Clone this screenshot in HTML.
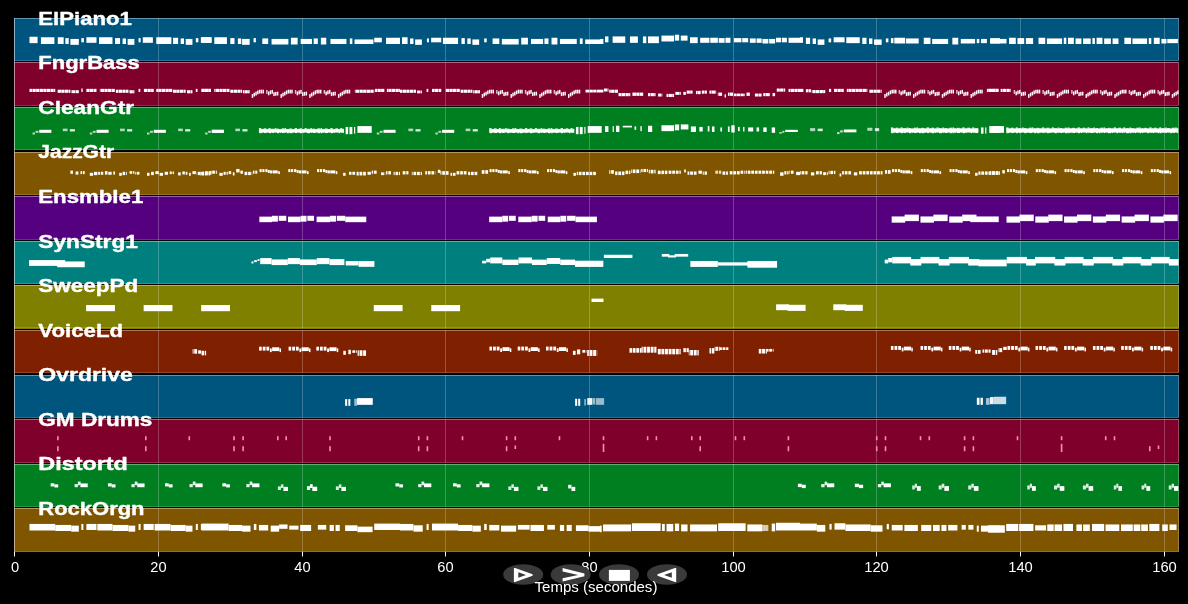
<!DOCTYPE html>
<html lang="fr">
<head>
<meta charset="utf-8">
<title>Piano roll</title>
<style>
html,body{margin:0;padding:0;background:#000;}
body{width:1188px;height:604px;overflow:hidden;font-family:"Liberation Sans",sans-serif;}
svg{display:block;will-change:transform;}
text{font-family:"Liberation Sans",sans-serif;fill:#fff;}
.lb{font-weight:bold;font-size:19.2px;stroke:#fff;stroke-width:0.4px;stroke-linejoin:round;}
.tk{font-size:14.1px;text-anchor:middle;}
.n{fill:#fff;}
</style>
</head>
<body>
<svg width="1188" height="604" viewBox="0 0 1188 604">
<rect width="1188" height="604" fill="#000"/>
<g shape-rendering="crispEdges">
<rect x="14" y="18" width="1165" height="43" fill="#00557f"/>
<rect x="14" y="62" width="1165" height="44" fill="#7f002a"/>
<rect x="14" y="107" width="1165" height="43" fill="#007f20"/>
<rect x="14" y="152" width="1165" height="43" fill="#7f5500"/>
<rect x="14" y="196" width="1165" height="44" fill="#55007f"/>
<rect x="14" y="241" width="1165" height="43" fill="#007f7f"/>
<rect x="14" y="285" width="1165" height="43.5" fill="#7f7f00"/>
<rect x="14" y="330" width="1165" height="43" fill="#7f2000"/>
<rect x="14" y="375" width="1165" height="43" fill="#00557f"/>
<rect x="14" y="419" width="1165" height="44" fill="#7f002a"/>
<rect x="14" y="464" width="1165" height="43" fill="#007f20"/>
<rect x="14" y="508" width="1165" height="44" fill="#7f5500"/>
</g>
<g stroke="#fff" stroke-opacity="0.29" stroke-width="0.8">
<line x1="158.5" y1="18" x2="158.5" y2="61"/><line x1="302.5" y1="18" x2="302.5" y2="61"/><line x1="445.5" y1="18" x2="445.5" y2="61"/><line x1="589.5" y1="18" x2="589.5" y2="61"/><line x1="733.5" y1="18" x2="733.5" y2="61"/><line x1="876.5" y1="18" x2="876.5" y2="61"/><line x1="1020.5" y1="18" x2="1020.5" y2="61"/><line x1="1164.5" y1="18" x2="1164.5" y2="61"/>
<line x1="158.5" y1="62" x2="158.5" y2="106"/><line x1="302.5" y1="62" x2="302.5" y2="106"/><line x1="445.5" y1="62" x2="445.5" y2="106"/><line x1="589.5" y1="62" x2="589.5" y2="106"/><line x1="733.5" y1="62" x2="733.5" y2="106"/><line x1="876.5" y1="62" x2="876.5" y2="106"/><line x1="1020.5" y1="62" x2="1020.5" y2="106"/><line x1="1164.5" y1="62" x2="1164.5" y2="106"/>
<line x1="158.5" y1="107" x2="158.5" y2="150"/><line x1="302.5" y1="107" x2="302.5" y2="150"/><line x1="445.5" y1="107" x2="445.5" y2="150"/><line x1="589.5" y1="107" x2="589.5" y2="150"/><line x1="733.5" y1="107" x2="733.5" y2="150"/><line x1="876.5" y1="107" x2="876.5" y2="150"/><line x1="1020.5" y1="107" x2="1020.5" y2="150"/><line x1="1164.5" y1="107" x2="1164.5" y2="150"/>
<line x1="158.5" y1="152" x2="158.5" y2="195"/><line x1="302.5" y1="152" x2="302.5" y2="195"/><line x1="445.5" y1="152" x2="445.5" y2="195"/><line x1="589.5" y1="152" x2="589.5" y2="195"/><line x1="733.5" y1="152" x2="733.5" y2="195"/><line x1="876.5" y1="152" x2="876.5" y2="195"/><line x1="1020.5" y1="152" x2="1020.5" y2="195"/><line x1="1164.5" y1="152" x2="1164.5" y2="195"/>
<line x1="158.5" y1="196" x2="158.5" y2="240"/><line x1="302.5" y1="196" x2="302.5" y2="240"/><line x1="445.5" y1="196" x2="445.5" y2="240"/><line x1="589.5" y1="196" x2="589.5" y2="240"/><line x1="733.5" y1="196" x2="733.5" y2="240"/><line x1="876.5" y1="196" x2="876.5" y2="240"/><line x1="1020.5" y1="196" x2="1020.5" y2="240"/><line x1="1164.5" y1="196" x2="1164.5" y2="240"/>
<line x1="158.5" y1="241" x2="158.5" y2="284"/><line x1="302.5" y1="241" x2="302.5" y2="284"/><line x1="445.5" y1="241" x2="445.5" y2="284"/><line x1="589.5" y1="241" x2="589.5" y2="284"/><line x1="733.5" y1="241" x2="733.5" y2="284"/><line x1="876.5" y1="241" x2="876.5" y2="284"/><line x1="1020.5" y1="241" x2="1020.5" y2="284"/><line x1="1164.5" y1="241" x2="1164.5" y2="284"/>
<line x1="158.5" y1="285" x2="158.5" y2="328.5"/><line x1="302.5" y1="285" x2="302.5" y2="328.5"/><line x1="445.5" y1="285" x2="445.5" y2="328.5"/><line x1="589.5" y1="285" x2="589.5" y2="328.5"/><line x1="733.5" y1="285" x2="733.5" y2="328.5"/><line x1="876.5" y1="285" x2="876.5" y2="328.5"/><line x1="1020.5" y1="285" x2="1020.5" y2="328.5"/><line x1="1164.5" y1="285" x2="1164.5" y2="328.5"/>
<line x1="158.5" y1="330" x2="158.5" y2="373"/><line x1="302.5" y1="330" x2="302.5" y2="373"/><line x1="445.5" y1="330" x2="445.5" y2="373"/><line x1="589.5" y1="330" x2="589.5" y2="373"/><line x1="733.5" y1="330" x2="733.5" y2="373"/><line x1="876.5" y1="330" x2="876.5" y2="373"/><line x1="1020.5" y1="330" x2="1020.5" y2="373"/><line x1="1164.5" y1="330" x2="1164.5" y2="373"/>
<line x1="158.5" y1="375" x2="158.5" y2="418"/><line x1="302.5" y1="375" x2="302.5" y2="418"/><line x1="445.5" y1="375" x2="445.5" y2="418"/><line x1="589.5" y1="375" x2="589.5" y2="418"/><line x1="733.5" y1="375" x2="733.5" y2="418"/><line x1="876.5" y1="375" x2="876.5" y2="418"/><line x1="1020.5" y1="375" x2="1020.5" y2="418"/><line x1="1164.5" y1="375" x2="1164.5" y2="418"/>
<line x1="158.5" y1="419" x2="158.5" y2="463"/><line x1="302.5" y1="419" x2="302.5" y2="463"/><line x1="445.5" y1="419" x2="445.5" y2="463"/><line x1="589.5" y1="419" x2="589.5" y2="463"/><line x1="733.5" y1="419" x2="733.5" y2="463"/><line x1="876.5" y1="419" x2="876.5" y2="463"/><line x1="1020.5" y1="419" x2="1020.5" y2="463"/><line x1="1164.5" y1="419" x2="1164.5" y2="463"/>
<line x1="158.5" y1="464" x2="158.5" y2="507"/><line x1="302.5" y1="464" x2="302.5" y2="507"/><line x1="445.5" y1="464" x2="445.5" y2="507"/><line x1="589.5" y1="464" x2="589.5" y2="507"/><line x1="733.5" y1="464" x2="733.5" y2="507"/><line x1="876.5" y1="464" x2="876.5" y2="507"/><line x1="1020.5" y1="464" x2="1020.5" y2="507"/><line x1="1164.5" y1="464" x2="1164.5" y2="507"/>
<line x1="158.5" y1="508" x2="158.5" y2="552"/><line x1="302.5" y1="508" x2="302.5" y2="552"/><line x1="445.5" y1="508" x2="445.5" y2="552"/><line x1="589.5" y1="508" x2="589.5" y2="552"/><line x1="733.5" y1="508" x2="733.5" y2="552"/><line x1="876.5" y1="508" x2="876.5" y2="552"/><line x1="1020.5" y1="508" x2="1020.5" y2="552"/><line x1="1164.5" y1="508" x2="1164.5" y2="552"/>
</g>
<g stroke="#fff" stroke-width="1" fill="none" shape-rendering="crispEdges">
<path d="M15 18.5 H1179" stroke-opacity="0.38"/><path d="M15 60.5 H1179" stroke-opacity="0.16"/><path d="M1178.5 19 V60" stroke-opacity="0.25"/>
<path d="M15 62.5 H1179" stroke-opacity="0.38"/><path d="M15 105.5 H1179" stroke-opacity="0.16"/><path d="M1178.5 63 V105" stroke-opacity="0.25"/>
<path d="M15 107.5 H1179" stroke-opacity="0.38"/><path d="M15 149.5 H1179" stroke-opacity="0.16"/><path d="M1178.5 108 V149" stroke-opacity="0.25"/>
<path d="M15 152.5 H1179" stroke-opacity="0.38"/><path d="M15 194.5 H1179" stroke-opacity="0.16"/><path d="M1178.5 153 V194" stroke-opacity="0.25"/>
<path d="M15 196.5 H1179" stroke-opacity="0.38"/><path d="M15 239.5 H1179" stroke-opacity="0.16"/><path d="M1178.5 197 V239" stroke-opacity="0.25"/>
<path d="M15 241.5 H1179" stroke-opacity="0.38"/><path d="M15 283.5 H1179" stroke-opacity="0.16"/><path d="M1178.5 242 V283" stroke-opacity="0.25"/>
<path d="M15 285.5 H1179" stroke-opacity="0.38"/><path d="M15 327.5 H1179" stroke-opacity="0.16"/><path d="M1178.5 286 V327" stroke-opacity="0.25"/>
<path d="M15 330.5 H1179" stroke-opacity="0.38"/><path d="M15 372.5 H1179" stroke-opacity="0.16"/><path d="M1178.5 331 V372" stroke-opacity="0.25"/>
<path d="M15 375.5 H1179" stroke-opacity="0.38"/><path d="M15 417.5 H1179" stroke-opacity="0.16"/><path d="M1178.5 376 V417" stroke-opacity="0.25"/>
<path d="M15 419.5 H1179" stroke-opacity="0.38"/><path d="M15 462.5 H1179" stroke-opacity="0.16"/><path d="M1178.5 420 V462" stroke-opacity="0.25"/>
<path d="M15 464.5 H1179" stroke-opacity="0.38"/><path d="M15 506.5 H1179" stroke-opacity="0.16"/><path d="M1178.5 465 V506" stroke-opacity="0.25"/>
<path d="M15 508.5 H1179" stroke-opacity="0.38"/><path d="M15 551.5 H1179" stroke-opacity="0.16"/><path d="M1178.5 509 V551" stroke-opacity="0.25"/>
<path d="M14.5 18 V552" stroke-opacity="0.55"/>
</g>
<g class="n">
<rect x="29.49" y="36.75" width="8.08" height="6.4"/><rect x="40.94" y="37.26" width="13.47" height="6.73"/><rect x="57.77" y="37.26" width="5.89" height="6.73"/><rect x="65.35" y="38.1" width="3.37" height="5.89"/><rect x="70.4" y="38.94" width="8.42" height="5.89"/><rect x="81.34" y="38.1" width="2.53" height="4.21"/>
<rect x="86.39" y="37.26" width="10.1" height="5.56"/><rect x="99.02" y="37.26" width="13.47" height="6.73"/><rect x="115.01" y="38.1" width="5.05" height="5.89"/><rect x="122.59" y="38.44" width="3.37" height="5.56"/><rect x="127.64" y="38.94" width="6.73" height="5.89"/><rect x="138.58" y="38.1" width="2.02" height="4.21"/>
<rect x="142.79" y="37.26" width="10.1" height="5.56"/><rect x="156.26" y="37.26" width="15.15" height="6.73"/><rect x="173.09" y="37.76" width="5.05" height="6.23"/><rect x="180.67" y="38.44" width="3.37" height="5.56"/><rect x="185.72" y="38.94" width="6.73" height="5.89"/><rect x="195.82" y="38.1" width="2.53" height="4.21"/>
<rect x="200.87" y="37.26" width="10.1" height="5.56"/><rect x="201.68" y="37.26" width="10.1" height="5.56"/><rect x="214.31" y="37.26" width="12.63" height="6.73"/><rect x="230.3" y="38.1" width="4.21" height="5.89"/><rect x="237.88" y="38.44" width="3.37" height="5.56"/><rect x="242.09" y="38.94" width="7.58" height="5.89"/>
<rect x="253.54" y="38.1" width="2.36" height="4.21"/><rect x="262.29" y="38.44" width="5.89" height="5.56"/><rect x="271.55" y="38.94" width="16.84" height="5.56"/><rect x="290.91" y="37.76" width="6.73" height="6.73"/><rect x="300.67" y="38.94" width="11.28" height="5.05"/><rect x="313.64" y="38.44" width="4.21" height="5.56"/>
<rect x="320.88" y="37.76" width="5.39" height="6.73"/><rect x="330.47" y="38.94" width="15.99" height="5.05"/><rect x="349.83" y="38.44" width="2.53" height="5.56"/><rect x="354.55" y="39.45" width="18.86" height="4.55"/><rect x="374.24" y="37.76" width="7.58" height="4.55"/><rect x="386.03" y="37.76" width="13.97" height="6.23"/>
<rect x="402.02" y="37.26" width="5.56" height="6.73"/><rect x="410.1" y="38.44" width="3.37" height="5.56"/><rect x="415.15" y="39.45" width="6.73" height="5.39"/><rect x="426.94" y="38.44" width="2.02" height="3.87"/><rect x="431.14" y="37.76" width="10.1" height="4.55"/><rect x="442.93" y="37.76" width="15.15" height="6.23"/>
<rect x="461.45" y="38.1" width="3.37" height="5.89"/><rect x="467.34" y="38.44" width="3.37" height="5.56"/><rect x="472.39" y="39.45" width="6.73" height="5.39"/><rect x="484.18" y="38.44" width="2.53" height="3.87"/><rect x="492.59" y="38.44" width="6.73" height="5.56"/><rect x="501.85" y="38.94" width="16.84" height="5.56"/>
<rect x="521.21" y="37.76" width="6.73" height="6.73"/><rect x="530.98" y="38.94" width="12.12" height="5.05"/><rect x="544.44" y="38.44" width="4.04" height="5.56"/><rect x="551.52" y="37.76" width="5.89" height="6.73"/><rect x="559.93" y="38.94" width="16.84" height="5.05"/><rect x="579.8" y="38.44" width="2.86" height="5.56"/>
<rect x="585.19" y="39.45" width="14.81" height="4.55"/><rect x="600" y="38.94" width="3.37" height="5.05"/><rect x="605.05" y="36.42" width="3.37" height="5.89"/><rect x="612.63" y="36.42" width="12.63" height="6.4"/><rect x="629.97" y="36.42" width="7.91" height="6.4"/><rect x="642.93" y="36.42" width="3.37" height="6.73"/>
<rect x="647.98" y="36.42" width="10.94" height="6.73"/><rect x="661.45" y="35.58" width="12.63" height="5.89"/><rect x="674.92" y="34.73" width="4.21" height="5.89"/><rect x="680.81" y="35.58" width="6.73" height="5.05"/><rect x="690.07" y="37.26" width="7.58" height="5.89"/><rect x="700.17" y="37.76" width="9.26" height="5.05"/>
<rect x="710.27" y="37.76" width="7.58" height="5.05"/><rect x="718.69" y="38.1" width="5.89" height="4.71"/><rect x="725.42" y="37.76" width="5.05" height="5.05"/><rect x="733.84" y="38.1" width="7.58" height="4.21"/><rect x="742.26" y="38.1" width="5.89" height="4.21"/><rect x="749.83" y="38.44" width="5.89" height="4.38"/>
<rect x="756.57" y="38.44" width="5.05" height="4.38"/><rect x="762.46" y="38.94" width="5.89" height="4.55"/><rect x="769.19" y="38.94" width="5.89" height="4.55"/><rect x="775.93" y="37.76" width="5.05" height="4.55"/><rect x="781.82" y="37.76" width="5.05" height="4.55"/><rect x="788.55" y="37.76" width="11.45" height="5.05"/>
<rect x="800" y="37.26" width="3.03" height="5.56"/><rect x="805.89" y="37.76" width="4.21" height="6.23"/><rect x="812.63" y="38.44" width="3.37" height="5.56"/><rect x="817.68" y="39.45" width="6.73" height="5.39"/><rect x="828.62" y="38.44" width="2.53" height="3.87"/><rect x="833.67" y="37.26" width="10.94" height="5.05"/>
<rect x="846.3" y="37.26" width="13.47" height="5.89"/><rect x="862.29" y="37.76" width="4.21" height="6.23"/><rect x="869.02" y="38.44" width="3.37" height="5.56"/><rect x="874.07" y="39.45" width="7.58" height="5.39"/><rect x="885.86" y="38.44" width="2.53" height="3.87"/><rect x="890.91" y="38.1" width="2.53" height="5.05"/>
<rect x="894.28" y="37.76" width="10.94" height="5.72"/><rect x="906.06" y="38.44" width="12.63" height="5.05"/><rect x="923.74" y="37.76" width="6.73" height="6.23"/><rect x="932.15" y="38.94" width="15.99" height="5.05"/><rect x="952.36" y="37.76" width="5.89" height="6.73"/><rect x="960.77" y="38.94" width="14.31" height="4.55"/>
<rect x="976.77" y="38.94" width="2.53" height="4.21"/><rect x="980.98" y="38.94" width="5.89" height="4.21"/><rect x="990.24" y="38.1" width="9.76" height="5.39"/><rect x="990.02" y="38.94" width="16.5" height="4.55"/><rect x="1009.04" y="37.76" width="6.73" height="6.23"/><rect x="1017.46" y="38.1" width="6.73" height="5.89"/>
<rect x="1025.88" y="38.1" width="7.24" height="5.89"/><rect x="1038.51" y="37.76" width="6.73" height="6.23"/><rect x="1046.92" y="38.44" width="15.15" height="5.56"/><rect x="1063.76" y="37.76" width="2.53" height="6.23"/><rect x="1067.97" y="37.76" width="5.89" height="6.23"/><rect x="1075.54" y="38.44" width="5.89" height="5.56"/>
<rect x="1083.12" y="38.44" width="7.58" height="5.56"/><rect x="1092.38" y="38.1" width="2.53" height="5.89"/><rect x="1096.59" y="37.76" width="5.89" height="6.23"/><rect x="1104.16" y="38.44" width="6.73" height="5.56"/><rect x="1112.58" y="38.44" width="5.89" height="5.56"/><rect x="1124.36" y="37.76" width="6.73" height="6.23"/>
<rect x="1132.44" y="38.44" width="14.65" height="5.56"/><rect x="1148.77" y="38.1" width="2.53" height="5.89"/><rect x="1153.82" y="37.76" width="5.89" height="6.23"/><rect x="1161.4" y="38.94" width="5.05" height="4.55"/><rect x="1167.29" y="38.94" width="10.61" height="4.21"/><rect x="29.49" y="88.85" width="2.71" height="3.13"/>
<rect x="32.49" y="88.85" width="3.29" height="3.13"/><rect x="36.09" y="88.85" width="3.29" height="3.13"/><rect x="39.68" y="88.85" width="3.29" height="3.13"/><rect x="43.28" y="88.85" width="3.29" height="3.13"/><rect x="46.87" y="88.85" width="3.29" height="3.13"/><rect x="50.46" y="88.85" width="3.29" height="3.13"/>
<rect x="54.06" y="88.85" width="1.19" height="3.13"/><rect x="57.65" y="89.69" width="3.29" height="3.13"/><rect x="61.25" y="89.69" width="3.29" height="3.13"/><rect x="64.84" y="89.69" width="3.29" height="3.13"/><rect x="68.43" y="89.69" width="1.96" height="3.13"/><rect x="71.24" y="90.2" width="0.49" height="2.96"/>
<rect x="72.03" y="90.2" width="3.29" height="2.96"/><rect x="75.62" y="90.2" width="3.19" height="2.96"/><rect x="81.34" y="88.51" width="1.35" height="3.46"/><rect x="86.4" y="88.85" width="3.29" height="3.13"/><rect x="90" y="88.85" width="3.29" height="3.13"/><rect x="93.59" y="88.85" width="2.9" height="3.13"/>
<rect x="99.86" y="88.85" width="0.62" height="3.13"/><rect x="100.78" y="88.85" width="3.29" height="3.13"/><rect x="104.37" y="88.85" width="3.29" height="3.13"/><rect x="107.97" y="88.85" width="3.29" height="3.13"/><rect x="111.56" y="88.85" width="3.29" height="3.13"/><rect x="115.85" y="89.69" width="2.6" height="3.13"/>
<rect x="118.75" y="89.69" width="3.29" height="3.13"/><rect x="122.34" y="89.69" width="3.29" height="3.13"/><rect x="125.94" y="89.69" width="2.54" height="3.13"/><rect x="129.53" y="90.2" width="3.29" height="3.13"/><rect x="133.13" y="90.2" width="1.24" height="3.13"/><rect x="138.58" y="88.85" width="1.68" height="3.13"/>
<rect x="143.91" y="88.85" width="3.29" height="3.13"/><rect x="147.5" y="88.85" width="3.29" height="3.13"/><rect x="151.1" y="88.85" width="2.63" height="3.13"/><rect x="156.26" y="88.85" width="1.73" height="3.13"/><rect x="158.28" y="88.85" width="3.29" height="3.13"/><rect x="161.88" y="88.85" width="3.29" height="3.13"/>
<rect x="165.47" y="88.85" width="3.29" height="3.13"/><rect x="169.07" y="88.85" width="3.18" height="3.13"/><rect x="173.09" y="89.69" width="2.86" height="3.13"/><rect x="176.25" y="89.69" width="3.29" height="3.13"/><rect x="179.85" y="89.69" width="3.29" height="3.13"/><rect x="183.44" y="89.69" width="2.28" height="3.13"/>
<rect x="187.04" y="90.2" width="3.29" height="3.13"/><rect x="190.63" y="90.2" width="1.82" height="3.13"/><rect x="195.82" y="88.85" width="1.68" height="3.13"/><rect x="201.41" y="88.85" width="3.29" height="3.13"/><rect x="205.01" y="88.85" width="3.29" height="3.13"/><rect x="208.6" y="88.85" width="2.37" height="3.13"/>
<rect x="201.68" y="88.85" width="3.02" height="3.13"/><rect x="205.01" y="88.85" width="3.29" height="3.13"/><rect x="208.6" y="88.85" width="2.34" height="3.13"/><rect x="214.31" y="88.85" width="1.18" height="3.13"/><rect x="215.79" y="88.85" width="3.29" height="3.13"/><rect x="219.38" y="88.85" width="3.29" height="3.13"/>
<rect x="222.98" y="88.85" width="3.29" height="3.13"/><rect x="226.57" y="88.85" width="2.89" height="3.13"/><rect x="230.3" y="89.69" width="3.15" height="3.13"/><rect x="233.76" y="89.69" width="3.29" height="3.13"/><rect x="237.35" y="89.69" width="3.29" height="3.13"/><rect x="240.95" y="89.69" width="1.14" height="3.13"/>
<rect x="242.93" y="90.2" width="1.31" height="3.13"/><rect x="244.54" y="90.2" width="3.29" height="3.13"/><rect x="248.13" y="90.2" width="1.53" height="3.13"/><rect x="251.73" y="94.09" width="1.45" height="3.8"/><rect x="253.53" y="92.69" width="1.45" height="3.8"/><rect x="255.32" y="91.69" width="1.45" height="3.8"/>
<rect x="257.12" y="90.49" width="1.45" height="3.8"/><rect x="258.92" y="89.69" width="1.45" height="3.8"/><rect x="260.71" y="89.69" width="1.45" height="3.8"/><rect x="262.51" y="89.69" width="1.45" height="3.8"/><rect x="266.1" y="89.99" width="1.45" height="3.8" opacity="0.75"/><rect x="267.9" y="91.49" width="1.45" height="3.8"/>
<rect x="269.7" y="90.49" width="1.45" height="3.8"/><rect x="271.5" y="89.89" width="1.45" height="3.8"/><rect x="273.29" y="92.29" width="1.45" height="3.8"/><rect x="275.09" y="91.89" width="1.45" height="3.8"/><rect x="276.89" y="91.69" width="1.45" height="3.8"/><rect x="280.48" y="94.09" width="1.45" height="3.8"/>
<rect x="282.28" y="92.69" width="1.45" height="3.8"/><rect x="284.07" y="91.69" width="1.45" height="3.8"/><rect x="285.87" y="90.49" width="1.45" height="3.8"/><rect x="287.67" y="89.69" width="1.45" height="3.8"/><rect x="289.46" y="89.69" width="1.45" height="3.8"/><rect x="291.26" y="89.69" width="1.45" height="3.8"/>
<rect x="294.86" y="89.99" width="1.45" height="3.8" opacity="0.75"/><rect x="296.65" y="91.49" width="1.45" height="3.8"/><rect x="298.45" y="90.49" width="1.45" height="3.8"/><rect x="300.25" y="89.89" width="1.45" height="3.8"/><rect x="302.04" y="92.29" width="1.45" height="3.8"/><rect x="303.84" y="91.89" width="1.45" height="3.8"/>
<rect x="305.64" y="91.69" width="1.45" height="3.8"/><rect x="309.23" y="94.09" width="1.45" height="3.8"/><rect x="311.03" y="92.69" width="1.45" height="3.8"/><rect x="312.83" y="91.69" width="1.45" height="3.8"/><rect x="314.62" y="90.49" width="1.45" height="3.8"/><rect x="316.42" y="89.69" width="1.45" height="3.8"/>
<rect x="318.22" y="89.69" width="1.45" height="3.8"/><rect x="320.01" y="89.69" width="1.45" height="3.8"/><rect x="323.61" y="89.99" width="1.45" height="3.8" opacity="0.75"/><rect x="325.4" y="91.49" width="1.45" height="3.8"/><rect x="327.2" y="90.49" width="1.45" height="3.8"/><rect x="329" y="89.89" width="1.45" height="3.8"/>
<rect x="330.8" y="92.29" width="1.45" height="3.8"/><rect x="332.59" y="91.89" width="1.45" height="3.8"/><rect x="334.39" y="91.69" width="1.45" height="3.8"/><rect x="337.98" y="94.09" width="1.45" height="3.8"/><rect x="339.78" y="92.69" width="1.45" height="3.8"/><rect x="341.58" y="91.69" width="1.45" height="3.8"/>
<rect x="343.37" y="90.49" width="1.45" height="3.8"/><rect x="345.17" y="89.69" width="1.45" height="3.8"/><rect x="346.97" y="89.69" width="1.45" height="3.8"/><rect x="348.77" y="89.69" width="1.45" height="3.8"/><rect x="354.88" y="89.69" width="0.77" height="3.13"/><rect x="355.95" y="89.69" width="3.29" height="3.13"/>
<rect x="359.55" y="89.69" width="3.29" height="3.13"/><rect x="363.14" y="89.69" width="3.29" height="3.13"/><rect x="366.74" y="89.69" width="3.29" height="3.13"/><rect x="370.33" y="89.69" width="3.29" height="3.13"/><rect x="373.92" y="89.69" width="0.32" height="3.13"/><rect x="375.08" y="88.85" width="2.13" height="3.13"/>
<rect x="377.52" y="88.85" width="3.29" height="3.13"/><rect x="381.11" y="88.85" width="3.23" height="3.13"/><rect x="386.87" y="88.85" width="1.13" height="3.13"/><rect x="388.3" y="88.85" width="3.29" height="3.13"/><rect x="391.89" y="88.85" width="3.29" height="3.13"/><rect x="395.49" y="88.85" width="3.29" height="3.13"/>
<rect x="399.08" y="88.85" width="0.92" height="3.13"/><rect x="400" y="89.69" width="2.38" height="3.13"/><rect x="402.68" y="89.69" width="3.29" height="3.13"/><rect x="406.27" y="89.69" width="3.29" height="3.13"/><rect x="409.86" y="89.69" width="3.29" height="3.13"/><rect x="413.46" y="89.69" width="2.54" height="3.13"/>
<rect x="417.05" y="90.54" width="3.29" height="2.79"/><rect x="420.65" y="90.54" width="1.24" height="2.79"/><rect x="426.6" y="88.85" width="1.68" height="3.13"/><rect x="431.99" y="88.85" width="2.74" height="3.13"/><rect x="435.02" y="88.85" width="3.29" height="3.13"/><rect x="438.62" y="88.85" width="2.63" height="3.13"/>
<rect x="445.8" y="88.85" width="3.29" height="3.13"/><rect x="449.4" y="88.85" width="3.29" height="3.13"/><rect x="452.99" y="88.85" width="3.29" height="3.13"/><rect x="456.59" y="88.85" width="3.18" height="3.13"/><rect x="460.61" y="89.69" width="2.87" height="3.13"/><rect x="463.77" y="89.69" width="3.29" height="3.13"/>
<rect x="467.37" y="89.69" width="3.29" height="3.13"/><rect x="470.96" y="89.69" width="1.43" height="3.13"/><rect x="473.23" y="90.2" width="1.02" height="3.13"/><rect x="474.56" y="90.2" width="3.29" height="3.13"/><rect x="478.15" y="90.2" width="1.82" height="3.13"/><rect x="481.74" y="94.09" width="1.45" height="3.8"/>
<rect x="483.54" y="92.69" width="1.45" height="3.8"/><rect x="485.34" y="91.69" width="1.45" height="3.8"/><rect x="487.13" y="90.49" width="1.45" height="3.8"/><rect x="488.93" y="89.69" width="1.45" height="3.8"/><rect x="490.73" y="89.69" width="1.45" height="3.8"/><rect x="492.53" y="89.69" width="1.45" height="3.8"/>
<rect x="496.12" y="89.99" width="1.45" height="3.8" opacity="0.75"/><rect x="497.92" y="91.49" width="1.45" height="3.8"/><rect x="499.71" y="90.49" width="1.45" height="3.8"/><rect x="501.51" y="89.89" width="1.45" height="3.8"/><rect x="503.31" y="92.29" width="1.45" height="3.8"/><rect x="505.1" y="91.89" width="1.45" height="3.8"/>
<rect x="506.9" y="91.69" width="1.45" height="3.8"/><rect x="510.5" y="94.09" width="1.45" height="3.8"/><rect x="512.29" y="92.69" width="1.45" height="3.8"/><rect x="514.09" y="91.69" width="1.45" height="3.8"/><rect x="515.89" y="90.49" width="1.45" height="3.8"/><rect x="517.68" y="89.69" width="1.45" height="3.8"/>
<rect x="519.48" y="89.69" width="1.45" height="3.8"/><rect x="521.28" y="89.69" width="1.45" height="3.8"/><rect x="524.87" y="89.99" width="1.45" height="3.8" opacity="0.75"/><rect x="526.67" y="91.49" width="1.45" height="3.8"/><rect x="528.47" y="90.49" width="1.45" height="3.8"/><rect x="530.26" y="89.89" width="1.45" height="3.8"/>
<rect x="532.06" y="92.29" width="1.45" height="3.8"/><rect x="533.86" y="91.89" width="1.45" height="3.8"/><rect x="535.65" y="91.69" width="1.45" height="3.8"/><rect x="539.25" y="94.09" width="1.45" height="3.8"/><rect x="541.04" y="92.69" width="1.45" height="3.8"/><rect x="542.84" y="91.69" width="1.45" height="3.8"/>
<rect x="544.64" y="90.49" width="1.45" height="3.8"/><rect x="546.44" y="89.69" width="1.45" height="3.8"/><rect x="548.23" y="89.69" width="1.45" height="3.8"/><rect x="550.03" y="89.69" width="1.45" height="3.8"/><rect x="553.62" y="89.99" width="1.45" height="3.8" opacity="0.75"/><rect x="555.42" y="91.49" width="1.45" height="3.8"/>
<rect x="557.22" y="90.49" width="1.45" height="3.8"/><rect x="559.01" y="89.89" width="1.45" height="3.8"/><rect x="560.81" y="92.29" width="1.45" height="3.8"/><rect x="562.61" y="91.89" width="1.45" height="3.8"/><rect x="564.41" y="91.69" width="1.45" height="3.8"/><rect x="568" y="94.09" width="1.45" height="3.8"/>
<rect x="569.8" y="92.69" width="1.45" height="3.8"/><rect x="571.59" y="91.69" width="1.45" height="3.8"/><rect x="573.39" y="90.49" width="1.45" height="3.8"/><rect x="575.19" y="89.69" width="1.45" height="3.8"/><rect x="576.98" y="89.69" width="1.45" height="3.8"/><rect x="578.78" y="89.69" width="1.45" height="3.8"/>
<rect x="585.19" y="89.69" width="0.48" height="2.79"/><rect x="585.97" y="89.69" width="3.29" height="2.79"/><rect x="589.56" y="89.69" width="3.29" height="2.79"/><rect x="593.16" y="89.69" width="3.29" height="2.79"/><rect x="596.75" y="89.69" width="3.25" height="2.79"/><rect x="600" y="89.69" width="3.37" height="2.79"/>
<rect x="603.94" y="88.51" width="3.29" height="2.96"/><rect x="607.53" y="88.51" width="0.88" height="2.96"/><rect x="609.26" y="89.69" width="1.57" height="3.13"/><rect x="611.13" y="89.69" width="3.29" height="3.13"/><rect x="614.72" y="89.69" width="3.29" height="3.13"/><rect x="618.52" y="93.06" width="3.09" height="3.13"/>
<rect x="621.91" y="93.06" width="3.29" height="3.13"/><rect x="625.5" y="93.06" width="3.29" height="3.13"/><rect x="629.1" y="93.06" width="1.21" height="3.13"/><rect x="631.99" y="92.56" width="0.41" height="3.29"/><rect x="632.69" y="92.56" width="3.29" height="3.29"/><rect x="636.29" y="92.56" width="3.29" height="3.29"/>
<rect x="639.88" y="92.56" width="3.29" height="3.29"/><rect x="647.98" y="93.06" width="2.38" height="3.13"/><rect x="650.66" y="93.06" width="3.29" height="3.13"/><rect x="654.26" y="93.06" width="1.3" height="3.13"/><rect x="658.08" y="93.57" width="3.06" height="2.96"/><rect x="661.44" y="93.57" width="0.85" height="2.96"/>
<rect x="666.5" y="93.9" width="1.83" height="3.13"/><rect x="668.63" y="93.9" width="3.29" height="3.13"/><rect x="672.23" y="93.9" width="1.85" height="3.13"/><rect x="674.92" y="91.88" width="0.6" height="2.96"/><rect x="675.82" y="91.88" width="3.29" height="2.96"/><rect x="679.41" y="91.88" width="1.39" height="2.96"/>
<rect x="683.33" y="91.88" width="2.53" height="2.96"/><rect x="686.7" y="90.54" width="3.2" height="3.13"/><rect x="690.2" y="90.54" width="2.4" height="3.13"/><rect x="695.96" y="90.87" width="1.12" height="3.29"/><rect x="697.38" y="90.87" width="3.29" height="3.29"/><rect x="701.85" y="90.54" width="2.42" height="3.13"/>
<rect x="704.57" y="90.54" width="2.33" height="3.13"/><rect x="709.43" y="90.54" width="2.03" height="3.13"/><rect x="711.76" y="90.54" width="3.29" height="3.13"/><rect x="715.35" y="90.54" width="0.81" height="3.13"/><rect x="717.85" y="92.56" width="0.8" height="3.29"/><rect x="718.95" y="92.56" width="3.11" height="3.29"/>
<rect x="724.58" y="94.24" width="1.35" height="3.29"/><rect x="727.95" y="92.56" width="1.48" height="3.29"/><rect x="729.73" y="92.56" width="3.27" height="3.29"/><rect x="733.84" y="93.57" width="2.78" height="2.62"/><rect x="736.92" y="93.57" width="3.29" height="2.62"/><rect x="740.51" y="93.57" width="3.29" height="2.62"/>
<rect x="744.11" y="93.57" width="0.68" height="2.62"/><rect x="746.46" y="92.56" width="3.37" height="3.29"/><rect x="754.89" y="93.57" width="3.29" height="2.96"/><rect x="758.48" y="93.57" width="3.13" height="2.96"/><rect x="763.3" y="93.06" width="2.07" height="3.13"/><rect x="765.67" y="93.06" width="3.29" height="3.13"/>
<rect x="769.26" y="93.06" width="0.77" height="3.13"/><rect x="772.56" y="93.06" width="2.53" height="3.13"/><rect x="776.77" y="88.51" width="2.98" height="3.13"/><rect x="780.05" y="88.51" width="3.29" height="3.13"/><rect x="783.64" y="88.51" width="1.55" height="3.13"/><rect x="788.55" y="88.85" width="1.98" height="3.13"/>
<rect x="790.83" y="88.85" width="3.29" height="3.13"/><rect x="794.42" y="88.85" width="3.29" height="3.13"/><rect x="798.02" y="88.85" width="1.98" height="3.13"/><rect x="800" y="88.85" width="3.37" height="3.13"/><rect x="805.89" y="89.19" width="2.61" height="3.13"/><rect x="808.8" y="89.19" width="2.14" height="3.13"/>
<rect x="811.78" y="90.03" width="0.31" height="3.13"/><rect x="812.39" y="90.03" width="3.29" height="3.13"/><rect x="815.99" y="90.03" width="3.29" height="3.13"/><rect x="819.58" y="90.03" width="3.29" height="3.13"/><rect x="823.17" y="90.03" width="2.08" height="3.13"/><rect x="828.96" y="88.85" width="2.19" height="3.13"/>
<rect x="833.96" y="88.85" width="3.29" height="3.13"/><rect x="837.55" y="88.85" width="3.29" height="3.13"/><rect x="841.14" y="88.85" width="2.63" height="3.13"/><rect x="846.8" y="88.85" width="1.23" height="3.13"/><rect x="848.33" y="88.85" width="3.29" height="3.13"/><rect x="851.93" y="88.85" width="3.29" height="3.13"/>
<rect x="855.52" y="88.85" width="3.29" height="3.13"/><rect x="859.11" y="88.85" width="3.29" height="3.13"/><rect x="862.71" y="88.85" width="3.29" height="3.13"/><rect x="866.3" y="88.85" width="1.04" height="3.13"/><rect x="869.02" y="89.69" width="0.57" height="3.13"/><rect x="869.9" y="89.69" width="3.29" height="3.13"/>
<rect x="873.49" y="89.69" width="3.29" height="3.13"/><rect x="877.08" y="89.69" width="3.29" height="3.13"/><rect x="880.68" y="89.69" width="0.97" height="3.13"/><rect x="884.27" y="94.09" width="1.45" height="3.8"/><rect x="886.07" y="92.69" width="1.45" height="3.8"/><rect x="887.87" y="91.69" width="1.45" height="3.8"/>
<rect x="889.66" y="90.49" width="1.45" height="3.8"/><rect x="891.46" y="89.69" width="1.45" height="3.8"/><rect x="893.26" y="89.69" width="1.45" height="3.8"/><rect x="895.05" y="89.69" width="1.45" height="3.8"/><rect x="898.65" y="89.99" width="1.45" height="3.8" opacity="0.75"/><rect x="900.44" y="91.49" width="1.45" height="3.8"/>
<rect x="902.24" y="90.49" width="1.45" height="3.8"/><rect x="904.04" y="89.89" width="1.45" height="3.8"/><rect x="905.84" y="92.29" width="1.45" height="3.8"/><rect x="907.63" y="91.89" width="1.45" height="3.8"/><rect x="909.43" y="91.69" width="1.45" height="3.8"/><rect x="913.02" y="94.09" width="1.45" height="3.8"/>
<rect x="914.82" y="92.69" width="1.45" height="3.8"/><rect x="916.62" y="91.69" width="1.45" height="3.8"/><rect x="918.41" y="90.49" width="1.45" height="3.8"/><rect x="920.21" y="89.69" width="1.45" height="3.8"/><rect x="922.01" y="89.69" width="1.45" height="3.8"/><rect x="923.81" y="89.69" width="1.45" height="3.8"/>
<rect x="927.4" y="89.99" width="1.45" height="3.8" opacity="0.75"/><rect x="929.2" y="91.49" width="1.45" height="3.8"/><rect x="930.99" y="90.49" width="1.45" height="3.8"/><rect x="932.79" y="89.89" width="1.45" height="3.8"/><rect x="934.59" y="92.29" width="1.45" height="3.8"/><rect x="936.38" y="91.89" width="1.45" height="3.8"/>
<rect x="938.18" y="91.69" width="1.45" height="3.8"/><rect x="941.78" y="94.09" width="1.45" height="3.8"/><rect x="943.57" y="92.69" width="1.45" height="3.8"/><rect x="945.37" y="91.69" width="1.45" height="3.8"/><rect x="947.17" y="90.49" width="1.45" height="3.8"/><rect x="948.96" y="89.69" width="1.45" height="3.8"/>
<rect x="950.76" y="89.69" width="1.45" height="3.8"/><rect x="952.56" y="89.69" width="1.45" height="3.8"/><rect x="956.15" y="89.99" width="1.45" height="3.8" opacity="0.75"/><rect x="957.95" y="91.49" width="1.45" height="3.8"/><rect x="959.75" y="90.49" width="1.45" height="3.8"/><rect x="961.54" y="89.89" width="1.45" height="3.8"/>
<rect x="963.34" y="92.29" width="1.45" height="3.8"/><rect x="965.14" y="91.89" width="1.45" height="3.8"/><rect x="966.93" y="91.69" width="1.45" height="3.8"/><rect x="970.53" y="94.09" width="1.45" height="3.8"/><rect x="972.32" y="92.69" width="1.45" height="3.8"/><rect x="974.12" y="91.69" width="1.45" height="3.8"/>
<rect x="975.92" y="90.49" width="1.45" height="3.8"/><rect x="977.72" y="89.69" width="1.45" height="3.8"/><rect x="979.51" y="89.69" width="1.45" height="3.8"/><rect x="981.31" y="89.69" width="1.45" height="3.8"/><rect x="986.87" y="88.85" width="1.33" height="3.13"/><rect x="988.5" y="88.85" width="3.29" height="3.13"/>
<rect x="992.09" y="88.85" width="3.29" height="3.13"/><rect x="995.69" y="88.85" width="2.97" height="3.13"/><rect x="988.5" y="88.85" width="3.29" height="3.13"/><rect x="992.09" y="88.85" width="3.29" height="3.13"/><rect x="995.69" y="88.85" width="2.42" height="3.13"/><rect x="1000.63" y="88.85" width="1.95" height="3.13"/>
<rect x="1002.87" y="88.85" width="3.29" height="3.13"/><rect x="1006.47" y="88.85" width="3.29" height="3.13"/><rect x="1010.06" y="88.85" width="0.67" height="3.13"/><rect x="1013.66" y="89.99" width="1.45" height="3.8" opacity="0.75"/><rect x="1015.45" y="91.49" width="1.45" height="3.8"/><rect x="1017.25" y="90.49" width="1.45" height="3.8"/>
<rect x="1019.05" y="89.89" width="1.45" height="3.8"/><rect x="1020.84" y="92.29" width="1.45" height="3.8"/><rect x="1022.64" y="91.89" width="1.45" height="3.8"/><rect x="1024.44" y="91.69" width="1.45" height="3.8"/><rect x="1028.03" y="94.09" width="1.45" height="3.8"/><rect x="1029.83" y="92.69" width="1.45" height="3.8"/>
<rect x="1031.63" y="91.69" width="1.45" height="3.8"/><rect x="1033.42" y="90.49" width="1.45" height="3.8"/><rect x="1035.22" y="89.69" width="1.45" height="3.8"/><rect x="1037.02" y="89.69" width="1.45" height="3.8"/><rect x="1038.81" y="89.69" width="1.45" height="3.8"/><rect x="1042.41" y="89.99" width="1.45" height="3.8" opacity="0.75"/>
<rect x="1044.2" y="91.49" width="1.45" height="3.8"/><rect x="1046" y="90.49" width="1.45" height="3.8"/><rect x="1047.8" y="89.89" width="1.45" height="3.8"/><rect x="1049.6" y="92.29" width="1.45" height="3.8"/><rect x="1051.39" y="91.89" width="1.45" height="3.8"/><rect x="1053.19" y="91.69" width="1.45" height="3.8"/>
<rect x="1056.78" y="94.09" width="1.45" height="3.8"/><rect x="1058.58" y="92.69" width="1.45" height="3.8"/><rect x="1060.38" y="91.69" width="1.45" height="3.8"/><rect x="1062.17" y="90.49" width="1.45" height="3.8"/><rect x="1063.97" y="89.69" width="1.45" height="3.8"/><rect x="1065.77" y="89.69" width="1.45" height="3.8"/>
<rect x="1067.57" y="89.69" width="1.45" height="3.8"/><rect x="1071.16" y="89.99" width="1.45" height="3.8" opacity="0.75"/><rect x="1072.96" y="91.49" width="1.45" height="3.8"/><rect x="1074.75" y="90.49" width="1.45" height="3.8"/><rect x="1076.55" y="89.89" width="1.45" height="3.8"/><rect x="1078.35" y="92.29" width="1.45" height="3.8"/>
<rect x="1080.14" y="91.89" width="1.45" height="3.8"/><rect x="1081.94" y="91.69" width="1.45" height="3.8"/><rect x="1085.54" y="94.09" width="1.45" height="3.8"/><rect x="1087.33" y="92.69" width="1.45" height="3.8"/><rect x="1089.13" y="91.69" width="1.45" height="3.8"/><rect x="1090.93" y="90.49" width="1.45" height="3.8"/>
<rect x="1092.72" y="89.69" width="1.45" height="3.8"/><rect x="1094.52" y="89.69" width="1.45" height="3.8"/><rect x="1096.32" y="89.69" width="1.45" height="3.8"/><rect x="1099.91" y="89.99" width="1.45" height="3.8" opacity="0.75"/><rect x="1101.71" y="91.49" width="1.45" height="3.8"/><rect x="1103.51" y="90.49" width="1.45" height="3.8"/>
<rect x="1105.3" y="89.89" width="1.45" height="3.8"/><rect x="1107.1" y="92.29" width="1.45" height="3.8"/><rect x="1108.9" y="91.89" width="1.45" height="3.8"/><rect x="1110.69" y="91.69" width="1.45" height="3.8"/><rect x="1114.29" y="94.09" width="1.45" height="3.8"/><rect x="1116.09" y="92.69" width="1.45" height="3.8"/>
<rect x="1117.88" y="91.69" width="1.45" height="3.8"/><rect x="1119.68" y="90.49" width="1.45" height="3.8"/><rect x="1121.48" y="89.69" width="1.45" height="3.8"/><rect x="1123.27" y="89.69" width="1.45" height="3.8"/><rect x="1125.07" y="89.69" width="1.45" height="3.8"/><rect x="1128.66" y="89.99" width="1.45" height="3.8" opacity="0.75"/>
<rect x="1130.46" y="91.49" width="1.45" height="3.8"/><rect x="1132.26" y="90.49" width="1.45" height="3.8"/><rect x="1134.06" y="89.89" width="1.45" height="3.8"/><rect x="1135.85" y="92.29" width="1.45" height="3.8"/><rect x="1137.65" y="91.89" width="1.45" height="3.8"/><rect x="1139.45" y="91.69" width="1.45" height="3.8"/>
<rect x="1143.04" y="94.09" width="1.45" height="3.8"/><rect x="1144.84" y="92.69" width="1.45" height="3.8"/><rect x="1146.63" y="91.69" width="1.45" height="3.8"/><rect x="1148.43" y="90.49" width="1.45" height="3.8"/><rect x="1150.23" y="89.69" width="1.45" height="3.8"/><rect x="1152.03" y="89.69" width="1.45" height="3.8"/>
<rect x="1153.82" y="89.69" width="1.45" height="3.8"/><rect x="1157.42" y="89.99" width="1.45" height="3.8" opacity="0.75"/><rect x="1159.21" y="91.49" width="1.45" height="3.8"/><rect x="1161.01" y="90.49" width="1.45" height="3.8"/><rect x="1162.81" y="89.89" width="1.45" height="3.8"/><rect x="1164.6" y="92.29" width="1.45" height="3.8"/>
<rect x="1166.4" y="91.89" width="1.45" height="3.8"/><rect x="1168.2" y="91.69" width="1.45" height="3.8"/><rect x="1171.79" y="94.09" width="1.45" height="3.8"/><rect x="1173.59" y="92.69" width="1.45" height="3.8"/><rect x="1175.39" y="91.69" width="1.45" height="3.8"/><rect x="1177.18" y="90.49" width="1.45" height="3.8"/>
<rect x="32.52" y="132.5" width="2.53" height="2.02" opacity="0.7"/><rect x="35.55" y="130.81" width="2.86" height="2.02" opacity="0.7"/><rect x="39.25" y="129.8" width="12.12" height="3.03"/><rect x="62.82" y="128.63" width="4.71" height="2.53" opacity="0.7"/><rect x="69.89" y="129.13" width="5.05" height="2.36" opacity="0.85"/><rect x="89.76" y="132.5" width="2.53" height="2.02" opacity="0.7"/>
<rect x="92.79" y="130.81" width="2.86" height="2.02" opacity="0.7"/><rect x="96.49" y="129.8" width="12.12" height="3.03"/><rect x="120.06" y="128.63" width="4.71" height="2.53" opacity="0.7"/><rect x="127.13" y="129.13" width="5.05" height="2.36" opacity="0.85"/><rect x="147" y="132.5" width="2.53" height="2.02" opacity="0.7"/><rect x="150.03" y="130.81" width="2.86" height="2.02" opacity="0.7"/>
<rect x="153.73" y="129.8" width="12.12" height="3.03"/><rect x="178.14" y="128.63" width="4.71" height="2.53" opacity="0.7"/><rect x="185.21" y="129.13" width="5.05" height="2.36" opacity="0.85"/><rect x="205.08" y="132.5" width="2.53" height="2.02" opacity="0.7"/><rect x="208.11" y="130.81" width="2.86" height="2.02" opacity="0.7"/><rect x="211.81" y="129.8" width="12.12" height="3.03"/>
<rect x="211.78" y="129.8" width="11.78" height="3.03"/><rect x="235.35" y="128.63" width="4.71" height="2.53" opacity="0.7"/><rect x="242.42" y="129.13" width="5.05" height="2.36" opacity="0.85"/><rect x="258.92" y="129.13" width="85.02" height="3.2"/><rect x="258.92" y="128.12" width="2.36" height="1.35"/><rect x="259.26" y="131.99" width="2.36" height="1.18"/>
<rect x="261.45" y="128.93" width="1.68" height="0.54"/><rect x="261.78" y="131.99" width="1.68" height="0.64"/><rect x="263.64" y="128.39" width="2.69" height="1.08"/><rect x="263.97" y="131.99" width="2.69" height="1.04"/><rect x="266.84" y="129.2" width="1.52" height="0.27"/><rect x="267.17" y="131.99" width="1.52" height="0.51"/>
<rect x="268.52" y="128.12" width="2.02" height="1.35"/><rect x="268.86" y="131.99" width="2.02" height="1.18"/><rect x="271.04" y="128.79" width="3.03" height="0.67"/><rect x="271.38" y="131.99" width="3.03" height="0.91"/><rect x="274.58" y="128.26" width="1.85" height="1.21"/><rect x="274.92" y="131.99" width="1.85" height="0.37"/>
<rect x="276.6" y="128.66" width="2.36" height="0.81"/><rect x="276.94" y="131.99" width="2.36" height="1.18"/><rect x="279.46" y="129.33" width="1.68" height="0.13"/><rect x="279.8" y="131.99" width="1.68" height="0.77"/><rect x="281.65" y="128.39" width="2.69" height="1.08"/><rect x="281.99" y="131.99" width="2.69" height="1.04"/>
<rect x="284.51" y="128.12" width="1.52" height="1.35"/><rect x="284.85" y="131.99" width="1.52" height="0.51"/><rect x="286.53" y="128.93" width="2.02" height="0.54"/><rect x="286.87" y="131.99" width="2.02" height="1.18"/><rect x="289.06" y="128.53" width="3.03" height="0.94"/><rect x="289.39" y="131.99" width="3.03" height="1.18"/>
<rect x="292.26" y="129.06" width="1.85" height="0.4"/><rect x="292.59" y="131.99" width="1.85" height="0.64"/><rect x="294.61" y="128.12" width="2.36" height="1.35"/><rect x="294.95" y="131.99" width="2.36" height="1.04"/><rect x="297.47" y="128.93" width="1.68" height="0.54"/><rect x="297.81" y="131.99" width="1.68" height="0.51"/>
<rect x="299.33" y="128.39" width="2.69" height="1.08"/><rect x="299.66" y="131.99" width="2.69" height="1.18"/><rect x="302.53" y="129.2" width="1.52" height="0.27"/><rect x="302.86" y="131.99" width="1.52" height="0.91"/><rect x="304.55" y="128.12" width="2.02" height="1.35"/><rect x="304.88" y="131.99" width="2.02" height="0.37"/>
<rect x="306.73" y="128.79" width="3.03" height="0.67"/><rect x="307.07" y="131.99" width="3.03" height="1.18"/><rect x="310.27" y="128.26" width="1.85" height="1.21"/><rect x="310.61" y="131.99" width="1.85" height="0.77"/><rect x="312.63" y="128.66" width="2.36" height="0.81"/><rect x="312.96" y="131.99" width="2.36" height="1.04"/>
<rect x="315.15" y="129.33" width="1.68" height="0.13"/><rect x="315.49" y="131.99" width="1.68" height="0.51"/><rect x="317.34" y="128.39" width="2.69" height="1.08"/><rect x="317.68" y="131.99" width="2.69" height="1.18"/><rect x="320.54" y="128.12" width="1.52" height="1.35"/><rect x="320.88" y="131.99" width="1.52" height="1.18"/>
<rect x="322.22" y="128.93" width="2.02" height="0.54"/><rect x="322.56" y="131.99" width="2.02" height="0.64"/><rect x="324.75" y="128.53" width="3.03" height="0.94"/><rect x="325.08" y="131.99" width="3.03" height="1.04"/><rect x="328.28" y="129.06" width="1.85" height="0.4"/><rect x="328.62" y="131.99" width="1.85" height="0.51"/>
<rect x="330.3" y="128.12" width="2.36" height="1.35"/><rect x="330.64" y="131.99" width="2.36" height="1.18"/><rect x="333.16" y="128.93" width="1.68" height="0.54"/><rect x="333.5" y="131.99" width="1.68" height="0.91"/><rect x="335.35" y="128.39" width="2.69" height="1.08"/><rect x="335.69" y="131.99" width="2.69" height="0.37"/>
<rect x="338.22" y="129.2" width="1.52" height="0.27"/><rect x="338.55" y="131.99" width="1.52" height="1.18"/><rect x="340.24" y="128.12" width="2.02" height="1.35"/><rect x="340.57" y="131.99" width="2.02" height="0.77"/><rect x="342.76" y="128.79" width="1.18" height="0.67"/><rect x="343.1" y="131.99" width="0.84" height="1.04"/>
<rect x="345.62" y="126.94" width="2.53" height="7.24"/><rect x="349.49" y="126.94" width="2.86" height="7.24"/><rect x="354.04" y="126.94" width="1.18" height="6.73"/><rect x="357.41" y="126.1" width="14.31" height="6.73"/><rect x="376.77" y="132.5" width="2.53" height="2.02" opacity="0.7"/><rect x="379.8" y="130.81" width="2.86" height="2.02" opacity="0.7"/>
<rect x="383.5" y="129.8" width="12.12" height="3.03"/><rect x="408.42" y="128.63" width="4.71" height="2.53" opacity="0.7"/><rect x="415.49" y="129.13" width="5.05" height="2.36" opacity="0.85"/><rect x="435.35" y="132.5" width="2.53" height="2.02" opacity="0.7"/><rect x="438.38" y="130.81" width="2.86" height="2.02" opacity="0.7"/><rect x="442.09" y="129.8" width="12.12" height="3.03"/>
<rect x="465.66" y="128.63" width="4.71" height="2.53" opacity="0.7"/><rect x="472.73" y="129.13" width="5.05" height="2.36" opacity="0.85"/><rect x="489.23" y="129.13" width="85.02" height="3.2"/><rect x="489.23" y="128.12" width="2.36" height="1.35"/><rect x="489.56" y="131.99" width="2.36" height="1.18"/><rect x="491.75" y="128.93" width="1.68" height="0.54"/>
<rect x="492.09" y="131.99" width="1.68" height="0.64"/><rect x="493.94" y="128.39" width="2.69" height="1.08"/><rect x="494.28" y="131.99" width="2.69" height="1.04"/><rect x="497.14" y="129.2" width="1.52" height="0.27"/><rect x="497.47" y="131.99" width="1.52" height="0.51"/><rect x="498.82" y="128.12" width="2.02" height="1.35"/>
<rect x="499.16" y="131.99" width="2.02" height="1.18"/><rect x="501.35" y="128.79" width="3.03" height="0.67"/><rect x="501.68" y="131.99" width="3.03" height="0.91"/><rect x="504.88" y="128.26" width="1.85" height="1.21"/><rect x="505.22" y="131.99" width="1.85" height="0.37"/><rect x="506.9" y="128.66" width="2.36" height="0.81"/>
<rect x="507.24" y="131.99" width="2.36" height="1.18"/><rect x="509.76" y="129.33" width="1.68" height="0.13"/><rect x="510.1" y="131.99" width="1.68" height="0.77"/><rect x="511.95" y="128.39" width="2.69" height="1.08"/><rect x="512.29" y="131.99" width="2.69" height="1.04"/><rect x="514.81" y="128.12" width="1.52" height="1.35"/>
<rect x="515.15" y="131.99" width="1.52" height="0.51"/><rect x="516.84" y="128.93" width="2.02" height="0.54"/><rect x="517.17" y="131.99" width="2.02" height="1.18"/><rect x="519.36" y="128.53" width="3.03" height="0.94"/><rect x="519.7" y="131.99" width="3.03" height="1.18"/><rect x="522.56" y="129.06" width="1.85" height="0.4"/>
<rect x="522.9" y="131.99" width="1.85" height="0.64"/><rect x="524.92" y="128.12" width="2.36" height="1.35"/><rect x="525.25" y="131.99" width="2.36" height="1.04"/><rect x="527.78" y="128.93" width="1.68" height="0.54"/><rect x="528.11" y="131.99" width="1.68" height="0.51"/><rect x="529.63" y="128.39" width="2.69" height="1.08"/>
<rect x="529.97" y="131.99" width="2.69" height="1.18"/><rect x="532.83" y="129.2" width="1.52" height="0.27"/><rect x="533.16" y="131.99" width="1.52" height="0.91"/><rect x="534.85" y="128.12" width="2.02" height="1.35"/><rect x="535.19" y="131.99" width="2.02" height="0.37"/><rect x="537.04" y="128.79" width="3.03" height="0.67"/>
<rect x="537.37" y="131.99" width="3.03" height="1.18"/><rect x="540.57" y="128.26" width="1.85" height="1.21"/><rect x="540.91" y="131.99" width="1.85" height="0.77"/><rect x="542.93" y="128.66" width="2.36" height="0.81"/><rect x="543.27" y="131.99" width="2.36" height="1.04"/><rect x="545.45" y="129.33" width="1.68" height="0.13"/>
<rect x="545.79" y="131.99" width="1.68" height="0.51"/><rect x="547.64" y="128.39" width="2.69" height="1.08"/><rect x="547.98" y="131.99" width="2.69" height="1.18"/><rect x="550.84" y="128.12" width="1.52" height="1.35"/><rect x="551.18" y="131.99" width="1.52" height="1.18"/><rect x="552.53" y="128.93" width="2.02" height="0.54"/>
<rect x="552.86" y="131.99" width="2.02" height="0.64"/><rect x="555.05" y="128.53" width="3.03" height="0.94"/><rect x="555.39" y="131.99" width="3.03" height="1.04"/><rect x="558.59" y="129.06" width="1.85" height="0.4"/><rect x="558.92" y="131.99" width="1.85" height="0.51"/><rect x="560.61" y="128.12" width="2.36" height="1.35"/>
<rect x="560.94" y="131.99" width="2.36" height="1.18"/><rect x="563.47" y="128.93" width="1.68" height="0.54"/><rect x="563.8" y="131.99" width="1.68" height="0.91"/><rect x="565.66" y="128.39" width="2.69" height="1.08"/><rect x="565.99" y="131.99" width="2.69" height="0.37"/><rect x="568.52" y="129.2" width="1.52" height="0.27"/>
<rect x="568.86" y="131.99" width="1.52" height="1.18"/><rect x="570.54" y="128.12" width="2.02" height="1.35"/><rect x="570.88" y="131.99" width="2.02" height="0.77"/><rect x="573.06" y="128.79" width="1.18" height="0.67"/><rect x="573.4" y="131.99" width="0.84" height="1.04"/><rect x="575.93" y="126.94" width="2.53" height="7.24"/>
<rect x="579.8" y="126.94" width="2.86" height="7.24"/><rect x="584.34" y="126.94" width="1.18" height="6.73"/><rect x="587.71" y="126.1" width="12.29" height="6.73"/><rect x="600" y="126.1" width="1.68" height="6.73"/><rect x="605.05" y="126.1" width="3.37" height="5.89"/><rect x="612.63" y="126.1" width="1.18" height="5.89"/>
<rect x="615.99" y="125.76" width="3.37" height="6.23"/><rect x="622.73" y="125.76" width="9.26" height="1.68"/><rect x="634.51" y="126.44" width="1.68" height="3.37"/><rect x="640.4" y="126.1" width="1.35" height="5.05"/><rect x="647.98" y="125.76" width="4.21" height="6.23"/><rect x="661.45" y="125.26" width="12.63" height="5.89"/>
<rect x="674.92" y="124.42" width="4.21" height="5.89"/><rect x="680.81" y="124.42" width="7.58" height="5.05"/><rect x="690.91" y="126.44" width="5.05" height="5.56"/><rect x="699.33" y="126.94" width="3.37" height="4.55"/><rect x="707.74" y="126.1" width="1.68" height="5.39"/><rect x="711.95" y="126.44" width="2.53" height="5.56"/>
<rect x="720.37" y="127.45" width="1.68" height="4.04"/><rect x="727.95" y="126.44" width="1.68" height="5.56"/><rect x="731.31" y="125.26" width="3.37" height="7.24"/><rect x="738.05" y="126.94" width="1.68" height="4.21"/><rect x="743.1" y="126.94" width="1.35" height="4.55"/><rect x="748.15" y="127.45" width="5.05" height="4.04"/>
<rect x="756.57" y="127.45" width="2.53" height="4.04"/><rect x="763.3" y="127.45" width="3.37" height="4.55"/><rect x="771.72" y="127.45" width="3.37" height="5.39"/><rect x="779.29" y="131.99" width="2.53" height="1.68" opacity="0.7"/><rect x="782.32" y="130.81" width="2.02" height="2.02" opacity="0.7"/><rect x="785.19" y="129.8" width="12.63" height="2.19"/>
<rect x="810.1" y="128.12" width="5.05" height="3.03" opacity="0.7"/><rect x="817.68" y="128.63" width="5.05" height="2.53" opacity="0.85"/><rect x="837.04" y="131.99" width="2.53" height="2.19" opacity="0.7"/><rect x="840.07" y="130.31" width="2.86" height="2.19" opacity="0.7"/><rect x="843.77" y="129.47" width="12.63" height="2.86"/><rect x="867.34" y="127.78" width="5.05" height="3.03" opacity="0.7"/>
<rect x="874.92" y="128.12" width="4.21" height="3.03" opacity="0.85"/><rect x="890.91" y="128.46" width="87.54" height="3.87"/><rect x="890.91" y="127.45" width="2.36" height="1.35"/><rect x="891.25" y="131.99" width="2.36" height="1.18"/><rect x="893.43" y="128.26" width="1.68" height="0.54"/><rect x="893.77" y="131.99" width="1.68" height="0.64"/>
<rect x="895.62" y="127.72" width="2.69" height="1.08"/><rect x="895.96" y="131.99" width="2.69" height="1.04"/><rect x="898.82" y="128.53" width="1.52" height="0.27"/><rect x="899.16" y="131.99" width="1.52" height="0.51"/><rect x="900.51" y="127.45" width="2.02" height="1.35"/><rect x="900.84" y="131.99" width="2.02" height="1.18"/>
<rect x="903.03" y="128.12" width="3.03" height="0.67"/><rect x="903.37" y="131.99" width="3.03" height="0.91"/><rect x="906.57" y="127.58" width="1.85" height="1.21"/><rect x="906.9" y="131.99" width="1.85" height="0.37"/><rect x="908.59" y="127.99" width="2.36" height="0.81"/><rect x="908.92" y="131.99" width="2.36" height="1.18"/>
<rect x="911.45" y="128.66" width="1.68" height="0.13"/><rect x="911.78" y="131.99" width="1.68" height="0.77"/><rect x="913.64" y="127.72" width="2.69" height="1.08"/><rect x="913.97" y="131.99" width="2.69" height="1.04"/><rect x="916.5" y="127.45" width="1.52" height="1.35"/><rect x="916.84" y="131.99" width="1.52" height="0.51"/>
<rect x="918.52" y="128.26" width="2.02" height="0.54"/><rect x="918.86" y="131.99" width="2.02" height="1.18"/><rect x="921.04" y="127.85" width="3.03" height="0.94"/><rect x="921.38" y="131.99" width="3.03" height="1.18"/><rect x="924.24" y="128.39" width="1.85" height="0.4"/><rect x="924.58" y="131.99" width="1.85" height="0.64"/>
<rect x="926.6" y="127.45" width="2.36" height="1.35"/><rect x="926.94" y="131.99" width="2.36" height="1.04"/><rect x="929.46" y="128.26" width="1.68" height="0.54"/><rect x="929.8" y="131.99" width="1.68" height="0.51"/><rect x="931.31" y="127.72" width="2.69" height="1.08"/><rect x="931.65" y="131.99" width="2.69" height="1.18"/>
<rect x="934.51" y="128.53" width="1.52" height="0.27"/><rect x="934.85" y="131.99" width="1.52" height="0.91"/><rect x="936.53" y="127.45" width="2.02" height="1.35"/><rect x="936.87" y="131.99" width="2.02" height="0.37"/><rect x="938.72" y="128.12" width="3.03" height="0.67"/><rect x="939.06" y="131.99" width="3.03" height="1.18"/>
<rect x="942.26" y="127.58" width="1.85" height="1.21"/><rect x="942.59" y="131.99" width="1.85" height="0.77"/><rect x="944.61" y="127.99" width="2.36" height="0.81"/><rect x="944.95" y="131.99" width="2.36" height="1.04"/><rect x="947.14" y="128.66" width="1.68" height="0.13"/><rect x="947.47" y="131.99" width="1.68" height="0.51"/>
<rect x="949.33" y="127.72" width="2.69" height="1.08"/><rect x="949.66" y="131.99" width="2.69" height="1.18"/><rect x="952.53" y="127.45" width="1.52" height="1.35"/><rect x="952.86" y="131.99" width="1.52" height="1.18"/><rect x="954.21" y="128.26" width="2.02" height="0.54"/><rect x="954.55" y="131.99" width="2.02" height="0.64"/>
<rect x="956.73" y="127.85" width="3.03" height="0.94"/><rect x="957.07" y="131.99" width="3.03" height="1.04"/><rect x="960.27" y="128.39" width="1.85" height="0.4"/><rect x="960.61" y="131.99" width="1.85" height="0.51"/><rect x="962.29" y="127.45" width="2.36" height="1.35"/><rect x="962.63" y="131.99" width="2.36" height="1.18"/>
<rect x="965.15" y="128.26" width="1.68" height="0.54"/><rect x="965.49" y="131.99" width="1.68" height="0.91"/><rect x="967.34" y="127.72" width="2.69" height="1.08"/><rect x="967.68" y="131.99" width="2.69" height="0.37"/><rect x="970.2" y="128.53" width="1.52" height="0.27"/><rect x="970.54" y="131.99" width="1.52" height="1.18"/>
<rect x="972.22" y="127.45" width="2.02" height="1.35"/><rect x="972.56" y="131.99" width="2.02" height="0.77"/><rect x="974.75" y="128.12" width="3.03" height="0.67"/><rect x="975.08" y="131.99" width="3.03" height="1.04"/><rect x="980.98" y="127.45" width="2.53" height="6.23"/><rect x="985.19" y="127.45" width="1.18" height="6.23"/>
<rect x="989.39" y="126.1" width="10.61" height="6.73"/><rect x="989.68" y="126.1" width="14.31" height="6.73"/><rect x="1006.18" y="128.46" width="172.05" height="3.87"/><rect x="1006.18" y="127.45" width="2.36" height="1.35"/><rect x="1006.52" y="131.99" width="2.36" height="1.18"/><rect x="1008.71" y="128.26" width="1.68" height="0.54"/>
<rect x="1009.04" y="131.99" width="1.68" height="0.64"/><rect x="1010.9" y="127.72" width="2.69" height="1.08"/><rect x="1011.23" y="131.99" width="2.69" height="1.04"/><rect x="1014.09" y="128.53" width="1.52" height="0.27"/><rect x="1014.43" y="131.99" width="1.52" height="0.51"/><rect x="1015.78" y="127.45" width="2.02" height="1.35"/>
<rect x="1016.11" y="131.99" width="2.02" height="1.18"/><rect x="1018.3" y="128.12" width="3.03" height="0.67"/><rect x="1018.64" y="131.99" width="3.03" height="0.91"/><rect x="1021.84" y="127.58" width="1.85" height="1.21"/><rect x="1022.18" y="131.99" width="1.85" height="0.37"/><rect x="1023.86" y="127.99" width="2.36" height="0.81"/>
<rect x="1024.2" y="131.99" width="2.36" height="1.18"/><rect x="1026.72" y="128.66" width="1.68" height="0.13"/><rect x="1027.06" y="131.99" width="1.68" height="0.77"/><rect x="1028.91" y="127.72" width="2.69" height="1.08"/><rect x="1029.25" y="131.99" width="2.69" height="1.04"/><rect x="1031.77" y="127.45" width="1.52" height="1.35"/>
<rect x="1032.11" y="131.99" width="1.52" height="0.51"/><rect x="1033.79" y="128.26" width="2.02" height="0.54"/><rect x="1034.13" y="131.99" width="2.02" height="1.18"/><rect x="1036.32" y="127.85" width="3.03" height="0.94"/><rect x="1036.65" y="131.99" width="3.03" height="1.18"/><rect x="1039.52" y="128.39" width="1.85" height="0.4"/>
<rect x="1039.85" y="131.99" width="1.85" height="0.64"/><rect x="1041.87" y="127.45" width="2.36" height="1.35"/><rect x="1042.21" y="131.99" width="2.36" height="1.04"/><rect x="1044.73" y="128.26" width="1.68" height="0.54"/><rect x="1045.07" y="131.99" width="1.68" height="0.51"/><rect x="1046.59" y="127.72" width="2.69" height="1.08"/>
<rect x="1046.92" y="131.99" width="2.69" height="1.18"/><rect x="1049.78" y="128.53" width="1.52" height="0.27"/><rect x="1050.12" y="131.99" width="1.52" height="0.91"/><rect x="1051.8" y="127.45" width="2.02" height="1.35"/><rect x="1052.14" y="131.99" width="2.02" height="0.37"/><rect x="1053.99" y="128.12" width="3.03" height="0.67"/>
<rect x="1054.33" y="131.99" width="3.03" height="1.18"/><rect x="1057.53" y="127.58" width="1.85" height="1.21"/><rect x="1057.87" y="131.99" width="1.85" height="0.77"/><rect x="1059.89" y="127.99" width="2.36" height="0.81"/><rect x="1060.22" y="131.99" width="2.36" height="1.04"/><rect x="1062.41" y="128.66" width="1.68" height="0.13"/>
<rect x="1062.75" y="131.99" width="1.68" height="0.51"/><rect x="1064.6" y="127.72" width="2.69" height="1.08"/><rect x="1064.94" y="131.99" width="2.69" height="1.18"/><rect x="1067.8" y="127.45" width="1.52" height="1.35"/><rect x="1068.13" y="131.99" width="1.52" height="1.18"/><rect x="1069.48" y="128.26" width="2.02" height="0.54"/>
<rect x="1069.82" y="131.99" width="2.02" height="0.64"/><rect x="1072.01" y="127.85" width="3.03" height="0.94"/><rect x="1072.34" y="131.99" width="3.03" height="1.04"/><rect x="1075.54" y="128.39" width="1.85" height="0.4"/><rect x="1075.88" y="131.99" width="1.85" height="0.51"/><rect x="1077.56" y="127.45" width="2.36" height="1.35"/>
<rect x="1077.9" y="131.99" width="2.36" height="1.18"/><rect x="1080.42" y="128.26" width="1.68" height="0.54"/><rect x="1080.76" y="131.99" width="1.68" height="0.91"/><rect x="1082.61" y="127.72" width="2.69" height="1.08"/><rect x="1082.95" y="131.99" width="2.69" height="0.37"/><rect x="1085.47" y="128.53" width="1.52" height="0.27"/>
<rect x="1085.81" y="131.99" width="1.52" height="1.18"/><rect x="1087.49" y="127.45" width="2.02" height="1.35"/><rect x="1087.83" y="131.99" width="2.02" height="0.77"/><rect x="1090.02" y="128.12" width="3.03" height="0.67"/><rect x="1090.36" y="131.99" width="3.03" height="1.04"/><rect x="1093.22" y="127.58" width="1.85" height="1.21"/>
<rect x="1093.56" y="131.99" width="1.85" height="0.51"/><rect x="1095.58" y="127.99" width="2.36" height="0.81"/><rect x="1095.91" y="131.99" width="2.36" height="1.18"/><rect x="1098.44" y="128.66" width="1.68" height="0.13"/><rect x="1098.77" y="131.99" width="1.68" height="1.18"/><rect x="1100.29" y="127.72" width="2.69" height="1.08"/>
<rect x="1100.63" y="131.99" width="2.69" height="0.64"/><rect x="1103.49" y="127.45" width="1.52" height="1.35"/><rect x="1103.82" y="131.99" width="1.52" height="1.04"/><rect x="1105.51" y="128.26" width="2.02" height="0.54"/><rect x="1105.85" y="131.99" width="2.02" height="0.51"/><rect x="1107.7" y="127.85" width="3.03" height="0.94"/>
<rect x="1108.03" y="131.99" width="3.03" height="1.18"/><rect x="1111.23" y="128.39" width="1.85" height="0.4"/><rect x="1111.57" y="131.99" width="1.85" height="0.91"/><rect x="1113.59" y="127.45" width="2.36" height="1.35"/><rect x="1113.93" y="131.99" width="2.36" height="0.37"/><rect x="1116.11" y="128.26" width="1.68" height="0.54"/>
<rect x="1116.45" y="131.99" width="1.68" height="1.18"/><rect x="1118.3" y="127.72" width="2.69" height="1.08"/><rect x="1118.64" y="131.99" width="2.69" height="0.77"/><rect x="1121.5" y="128.53" width="1.52" height="0.27"/><rect x="1121.84" y="131.99" width="1.52" height="1.04"/><rect x="1123.19" y="127.45" width="2.02" height="1.35"/>
<rect x="1123.52" y="131.99" width="2.02" height="0.51"/><rect x="1125.71" y="128.12" width="3.03" height="0.67"/><rect x="1126.05" y="131.99" width="3.03" height="1.18"/><rect x="1129.25" y="127.58" width="1.85" height="1.21"/><rect x="1129.58" y="131.99" width="1.85" height="1.18"/><rect x="1131.27" y="127.99" width="2.36" height="0.81"/>
<rect x="1131.6" y="131.99" width="2.36" height="0.64"/><rect x="1134.13" y="128.66" width="1.68" height="0.13"/><rect x="1134.46" y="131.99" width="1.68" height="1.04"/><rect x="1136.32" y="127.72" width="2.69" height="1.08"/><rect x="1136.65" y="131.99" width="2.69" height="0.51"/><rect x="1139.18" y="127.45" width="1.52" height="1.35"/>
<rect x="1139.52" y="131.99" width="1.52" height="1.18"/><rect x="1141.2" y="128.26" width="2.02" height="0.54"/><rect x="1141.54" y="131.99" width="2.02" height="0.91"/><rect x="1143.72" y="127.85" width="3.03" height="0.94"/><rect x="1144.06" y="131.99" width="3.03" height="0.37"/><rect x="1146.92" y="128.39" width="1.85" height="0.4"/>
<rect x="1147.26" y="131.99" width="1.85" height="1.18"/><rect x="1149.28" y="127.45" width="2.36" height="1.35"/><rect x="1149.62" y="131.99" width="2.36" height="0.77"/><rect x="1152.14" y="128.26" width="1.68" height="0.54"/><rect x="1152.48" y="131.99" width="1.68" height="1.04"/><rect x="1153.99" y="127.72" width="2.69" height="1.08"/>
<rect x="1154.33" y="131.99" width="2.69" height="0.51"/><rect x="1157.19" y="128.53" width="1.52" height="0.27"/><rect x="1157.53" y="131.99" width="1.52" height="1.18"/><rect x="1159.21" y="127.45" width="2.02" height="1.35"/><rect x="1159.55" y="131.99" width="2.02" height="1.18"/><rect x="1161.4" y="128.12" width="3.03" height="0.67"/>
<rect x="1161.74" y="131.99" width="3.03" height="0.64"/><rect x="1164.94" y="127.58" width="1.85" height="1.21"/><rect x="1165.27" y="131.99" width="1.85" height="1.04"/><rect x="1167.29" y="127.99" width="2.36" height="0.81"/><rect x="1167.63" y="131.99" width="2.36" height="0.51"/><rect x="1169.82" y="128.66" width="1.68" height="0.13"/>
<rect x="1170.15" y="131.99" width="1.68" height="1.18"/><rect x="1172.01" y="127.72" width="2.69" height="1.08"/><rect x="1172.34" y="131.99" width="2.69" height="0.91"/><rect x="1175.21" y="127.45" width="1.52" height="1.35"/><rect x="1175.54" y="131.99" width="1.52" height="0.37"/><rect x="1176.89" y="128.26" width="1.35" height="0.54"/>
<rect x="1177.23" y="131.99" width="1.01" height="1.18"/><rect x="70.4" y="170.64" width="2.53" height="3.13"/><rect x="75.62" y="171.48" width="2.74" height="3.13"/><rect x="80.5" y="171.15" width="1.46" height="2.96"/><rect x="82.81" y="171.15" width="1.9" height="2.96"/><rect x="89.76" y="172.83" width="3.37" height="2.96"/>
<rect x="93.97" y="171.82" width="3.37" height="3.29"/><rect x="98.18" y="171.82" width="1.75" height="2.96"/><rect x="100.78" y="171.82" width="2.45" height="2.96"/><rect x="104.91" y="171.15" width="2.53" height="3.46"/><rect x="108.28" y="171.82" width="3.37" height="2.96"/><rect x="113.33" y="171.48" width="1.68" height="3.13"/>
<rect x="119.22" y="172.83" width="2.53" height="2.96"/><rect x="122.59" y="171.82" width="2.5" height="3.29"/><rect x="125.94" y="171.82" width="0.86" height="3.29"/><rect x="129.53" y="171.15" width="2.74" height="2.62"/><rect x="133.13" y="171.15" width="1.24" height="2.62"/><rect x="135.21" y="171.82" width="0.66" height="2.79"/>
<rect x="136.72" y="171.82" width="2.7" height="2.79"/><rect x="147" y="172.83" width="2.53" height="2.96"/><rect x="151.1" y="171.82" width="2.74" height="3.29"/><rect x="155.41" y="171.15" width="3.37" height="2.96"/><rect x="159.62" y="172.83" width="3.37" height="2.96"/><rect x="164.67" y="171.82" width="3.37" height="2.96"/>
<rect x="169.72" y="171.48" width="2.09" height="2.62"/><rect x="172.66" y="171.48" width="1.27" height="2.62"/><rect x="178.14" y="172.33" width="2.53" height="3.13"/><rect x="182.35" y="171.48" width="2.53" height="2.96"/><rect x="185.72" y="171.82" width="1.68" height="2.96"/><rect x="189.08" y="172.83" width="1.68" height="2.96"/>
<rect x="192.45" y="171.15" width="3.37" height="2.96"/><rect x="196.66" y="171.82" width="0.31" height="3.29"/><rect x="197.82" y="171.82" width="2.74" height="3.29"/><rect x="201.41" y="171.82" width="2.74" height="3.29"/><rect x="205.08" y="171.15" width="2.67" height="3.46"/><rect x="208.6" y="171.15" width="2.74" height="3.46"/>
<rect x="200" y="171.82" width="0.56" height="3.63"/><rect x="201.41" y="171.82" width="2.74" height="3.63"/><rect x="205.01" y="171.82" width="2.74" height="3.63"/><rect x="208.6" y="171.82" width="1.5" height="3.63"/><rect x="210.94" y="170.64" width="0.4" height="3.13"/><rect x="212.19" y="170.64" width="2.74" height="3.13"/>
<rect x="215.79" y="170.64" width="1.05" height="3.13"/><rect x="219.36" y="172.83" width="3.37" height="2.96"/><rect x="223.57" y="171.82" width="2.15" height="2.96"/><rect x="226.57" y="171.82" width="1.21" height="2.96"/><rect x="228.62" y="171.15" width="2.53" height="2.96"/><rect x="232.83" y="172.33" width="1.68" height="3.13"/>
<rect x="236.2" y="168.96" width="3.37" height="3.46"/><rect x="240.4" y="170.64" width="2.53" height="3.13"/><rect x="244.54" y="171.82" width="2.74" height="3.29"/><rect x="248.13" y="171.82" width="2.74" height="3.29"/><rect x="251.73" y="171.82" width="0.46" height="3.29"/><rect x="253.03" y="170.64" width="1.44" height="3.13"/>
<rect x="255.32" y="170.64" width="1.92" height="3.13"/><rect x="343.1" y="172.83" width="2.53" height="2.96"/><rect x="348.99" y="171.82" width="2.52" height="2.96"/><rect x="352.36" y="171.82" width="2.74" height="2.96"/><rect x="356.57" y="171.82" width="2.13" height="3.63"/><rect x="359.55" y="171.82" width="2.74" height="3.63"/>
<rect x="363.14" y="171.82" width="2.74" height="3.63"/><rect x="367.51" y="171.82" width="3.37" height="2.96"/><rect x="371.72" y="170.64" width="1.36" height="3.13"/><rect x="373.92" y="170.64" width="2.74" height="3.13"/><rect x="381.11" y="172.33" width="2.74" height="2.79"/><rect x="384.71" y="172.33" width="0.48" height="2.79"/>
<rect x="386.03" y="171.15" width="1.42" height="3.29"/><rect x="388.3" y="171.15" width="2.74" height="3.29"/><rect x="393.6" y="171.82" width="1.04" height="3.29"/><rect x="395.49" y="171.82" width="2.74" height="3.29"/><rect x="399.08" y="171.82" width="0.92" height="3.29"/><rect x="402.68" y="171.15" width="2.74" height="3.29"/>
<rect x="406.27" y="171.15" width="2.15" height="3.29"/><rect x="411.78" y="171.82" width="0.82" height="3.29"/><rect x="413.46" y="171.82" width="2.74" height="3.29"/><rect x="417.05" y="171.82" width="2.74" height="3.29"/><rect x="420.65" y="171.82" width="1.24" height="3.29"/><rect x="425.25" y="171.15" width="1.73" height="3.29"/>
<rect x="427.83" y="171.15" width="2.74" height="3.29"/><rect x="431.43" y="171.15" width="2.74" height="3.29"/><rect x="435.02" y="171.15" width="0.33" height="3.29"/><rect x="437.88" y="169.8" width="2.53" height="3.13"/><rect x="440.4" y="171.15" width="0.96" height="3.63"/><rect x="442.21" y="171.15" width="2.74" height="3.63"/>
<rect x="445.8" y="171.15" width="2.74" height="3.63"/><rect x="450.51" y="172.83" width="1.64" height="2.96"/><rect x="452.99" y="172.83" width="2.56" height="2.96"/><rect x="456.59" y="171.15" width="2.74" height="3.29"/><rect x="460.18" y="171.15" width="2.74" height="3.29"/><rect x="463.77" y="171.15" width="2.74" height="3.29"/>
<rect x="468.18" y="171.82" width="1.93" height="3.29"/><rect x="470.96" y="171.82" width="2.74" height="3.29"/><rect x="474.56" y="171.82" width="2.74" height="3.29"/><rect x="481.74" y="170.14" width="2.74" height="3.63"/><rect x="485.34" y="170.14" width="2.74" height="3.63"/><rect x="573.4" y="172.83" width="2.53" height="2.96"/>
<rect x="576.77" y="171.82" width="1.16" height="3.29"/><rect x="578.78" y="171.82" width="2.74" height="3.29"/><rect x="582.38" y="171.82" width="2.74" height="3.29"/><rect x="585.97" y="171.82" width="2.74" height="3.29"/><rect x="589.56" y="171.82" width="2.74" height="3.29"/><rect x="593.16" y="171.82" width="2.74" height="3.29"/>
<rect x="609.26" y="170.14" width="1.02" height="3.63"/><rect x="611.13" y="170.14" width="2.74" height="3.63"/><rect x="615.15" y="171.48" width="2.31" height="3.63"/><rect x="618.32" y="171.48" width="2.74" height="3.63"/><rect x="621.91" y="171.48" width="2.5" height="3.63"/><rect x="625.5" y="170.64" width="2.74" height="3.46"/>
<rect x="629.1" y="170.64" width="1.21" height="3.46"/><rect x="631.14" y="169.46" width="0.7" height="3.63"/><rect x="632.69" y="169.46" width="2.74" height="3.63"/><rect x="636.29" y="169.46" width="2.74" height="3.63"/><rect x="639.88" y="169.46" width="0.52" height="3.63"/><rect x="641.25" y="168.96" width="1.38" height="3.13"/>
<rect x="643.47" y="168.96" width="2.74" height="3.13"/><rect x="647.07" y="168.96" width="0.91" height="3.13"/><rect x="648.82" y="169.8" width="0.99" height="3.63"/><rect x="650.66" y="169.8" width="2.74" height="3.63"/><rect x="654.26" y="169.8" width="1.3" height="3.63"/><rect x="657.85" y="170.64" width="2.74" height="3.46"/>
<rect x="661.44" y="170.64" width="2.74" height="3.46"/><rect x="665.04" y="170.64" width="2.3" height="3.46"/><rect x="668.63" y="170.64" width="2.74" height="3.13"/><rect x="672.23" y="170.64" width="2.74" height="3.13"/><rect x="675.82" y="170.64" width="2.74" height="3.13"/><rect x="679.41" y="170.64" width="1.39" height="3.13"/>
<rect x="684.18" y="169.46" width="1.68" height="2.96"/><rect x="687.54" y="171.48" width="1.8" height="3.29"/><rect x="690.2" y="171.48" width="2.74" height="3.29"/><rect x="693.79" y="171.48" width="2.74" height="3.29"/><rect x="698.48" y="170.64" width="3.37" height="3.13"/><rect x="702.69" y="171.48" width="1.03" height="3.29"/>
<rect x="704.57" y="171.48" width="2.33" height="3.29"/><rect x="715.35" y="170.64" width="2.74" height="3.13" opacity="0.8"/><rect x="718.95" y="170.64" width="2.26" height="3.13" opacity="0.8"/><rect x="722.54" y="171.48" width="2.74" height="3.29"/><rect x="726.14" y="171.48" width="1.81" height="3.29"/><rect x="729.73" y="171.15" width="2.74" height="3.29"/>
<rect x="733.32" y="171.15" width="2.74" height="3.29"/><rect x="736.92" y="171.15" width="2.74" height="3.29"/><rect x="740.57" y="170.64" width="2.68" height="3.13"/><rect x="744.11" y="170.64" width="0.68" height="3.13"/><rect x="745.62" y="170.64" width="1.23" height="3.13"/><rect x="747.7" y="170.64" width="2.74" height="3.13"/>
<rect x="751.29" y="170.64" width="2.74" height="3.13"/><rect x="754.89" y="170.64" width="2.74" height="3.13"/><rect x="758.48" y="170.64" width="2.74" height="3.13"/><rect x="762.08" y="170.64" width="2.74" height="3.13"/><rect x="765.67" y="170.64" width="2.74" height="3.13"/><rect x="769.26" y="170.64" width="2.74" height="3.13"/>
<rect x="772.86" y="170.64" width="1.38" height="3.13"/><rect x="780.13" y="172.33" width="3.37" height="3.46"/><rect x="784.34" y="171.15" width="2.04" height="3.29"/><rect x="787.23" y="171.15" width="1.32" height="3.29"/><rect x="789.39" y="170.64" width="0.58" height="3.13"/><rect x="790.83" y="170.64" width="2.74" height="3.13"/>
<rect x="796.13" y="171.82" width="3.87" height="3.29"/><rect x="800" y="171.15" width="0.76" height="3.29"/><rect x="801.61" y="171.15" width="2.74" height="3.29"/><rect x="805.2" y="171.15" width="2.37" height="3.29"/><rect x="810.94" y="172.33" width="3.37" height="3.13"/><rect x="815.99" y="171.15" width="2.74" height="3.29"/>
<rect x="819.58" y="171.15" width="2.31" height="3.29"/><rect x="823.17" y="172.16" width="2.74" height="2.96"/><rect x="826.77" y="172.16" width="1.01" height="2.96"/><rect x="828.62" y="170.81" width="0.89" height="3.29"/><rect x="830.36" y="170.81" width="2.74" height="3.29"/><rect x="833.96" y="170.81" width="1.4" height="3.29"/>
<rect x="839.56" y="173.5" width="1.68" height="2.96"/><rect x="842.09" y="171.15" width="1.8" height="3.29"/><rect x="844.74" y="171.15" width="2.74" height="3.29"/><rect x="848.33" y="171.15" width="2.74" height="3.29"/><rect x="853.87" y="172.33" width="3.37" height="3.13"/><rect x="859.11" y="171.15" width="2.74" height="3.29"/>
<rect x="862.71" y="171.15" width="2.74" height="3.29"/><rect x="866.3" y="171.15" width="2.74" height="3.29"/><rect x="869.9" y="171.15" width="2.74" height="3.29"/><rect x="873.49" y="171.15" width="2.74" height="3.29"/><rect x="877.08" y="171.15" width="2.74" height="3.29"/><rect x="880.68" y="171.15" width="1.81" height="3.29"/>
<rect x="885.02" y="170.14" width="2" height="3.63"/><rect x="887.87" y="170.14" width="2.74" height="3.63"/><rect x="975.08" y="172.83" width="2.53" height="2.96"/><rect x="978.45" y="171.48" width="2.01" height="3.29"/><rect x="981.31" y="171.48" width="2.74" height="3.29"/><rect x="984.9" y="171.48" width="2.74" height="3.29"/>
<rect x="988.5" y="171.48" width="2.74" height="3.29"/><rect x="992.09" y="171.48" width="2.74" height="3.29"/><rect x="995.69" y="171.48" width="2.74" height="3.29"/><rect x="999.28" y="171.48" width="0.72" height="3.29"/><rect x="989.68" y="171.15" width="1.56" height="3.63"/><rect x="992.09" y="171.15" width="2.74" height="3.63"/>
<rect x="995.69" y="171.15" width="2.74" height="3.63"/><rect x="999.28" y="171.15" width="0.5" height="3.63"/><rect x="1002.31" y="170.14" width="2.53" height="3.29"/><rect x="259.36" y="216.63" width="12.63" height="5.56"/><rect x="271.99" y="215.78" width="5.89" height="5.89"/><rect x="278.72" y="215.78" width="7.58" height="5.05"/>
<rect x="287.98" y="216.63" width="12.63" height="5.56"/><rect x="300.61" y="215.78" width="5.89" height="5.89"/><rect x="307.34" y="215.78" width="6.73" height="5.05"/><rect x="316.6" y="216.63" width="13.47" height="5.56"/><rect x="330.07" y="215.78" width="5.89" height="5.89"/><rect x="336.8" y="215.78" width="8.42" height="5.05"/>
<rect x="345.22" y="216.63" width="21.04" height="5.56"/><rect x="489.16" y="216.63" width="13.13" height="5.56"/><rect x="502.29" y="215.78" width="5.89" height="5.89"/><rect x="509.02" y="215.78" width="6.73" height="5.05"/><rect x="518.28" y="216.63" width="13.47" height="5.56"/><rect x="531.75" y="215.78" width="5.89" height="5.89"/>
<rect x="538.48" y="215.78" width="6.73" height="5.05"/><rect x="547.74" y="216.63" width="12.63" height="5.56"/><rect x="560.37" y="215.78" width="5.89" height="5.89"/><rect x="567.1" y="215.78" width="8.42" height="5.05"/><rect x="575.52" y="216.63" width="21.38" height="5.56"/><rect x="891.67" y="216.44" width="13.48" height="6.22"/>
<rect x="904.63" y="214.63" width="14.26" height="6.48"/><rect x="920.45" y="216.44" width="13.48" height="6.22"/><rect x="933.41" y="214.63" width="14.26" height="6.48"/><rect x="949.22" y="216.44" width="13.48" height="6.22"/><rect x="962.19" y="214.63" width="14.26" height="6.48"/><rect x="970.23" y="216.44" width="28.52" height="5.7"/>
<rect x="1006.52" y="216.44" width="13.48" height="6.22"/><rect x="1019.49" y="214.63" width="14.26" height="6.48"/><rect x="1035.3" y="216.44" width="13.48" height="6.22"/><rect x="1048.27" y="214.63" width="14.26" height="6.48"/><rect x="1064.08" y="216.44" width="13.48" height="6.22"/><rect x="1077.04" y="214.63" width="14.26" height="6.48"/>
<rect x="1092.86" y="216.44" width="13.48" height="6.22"/><rect x="1105.82" y="214.63" width="14.26" height="6.48"/><rect x="1121.64" y="216.44" width="13.48" height="6.22"/><rect x="1134.6" y="214.63" width="14.26" height="6.48"/><rect x="1150.42" y="216.44" width="13.48" height="6.22"/><rect x="1163.38" y="214.63" width="14.26" height="6.48"/>
<rect x="29.08" y="260.1" width="36.09" height="5.79"/><rect x="57.1" y="261.45" width="27.61" height="5.79"/><rect x="251.45" y="261.45" width="2.02" height="2.02"/><rect x="254.14" y="260.1" width="2.69" height="2.02"/><rect x="257.51" y="259.16" width="2.02" height="1.89"/><rect x="260.2" y="258.08" width="11.45" height="6.06"/>
<rect x="271.65" y="259.43" width="16.16" height="5.66"/><rect x="287.81" y="258.08" width="12.12" height="6.06"/><rect x="299.93" y="259.43" width="16.84" height="5.66"/><rect x="316.77" y="258.08" width="12.79" height="6.06"/><rect x="329.56" y="259.16" width="14.81" height="5.93"/><rect x="345.72" y="261.04" width="12.79" height="4.44"/>
<rect x="358.52" y="261.04" width="15.89" height="5.79"/><rect x="482.12" y="260.7" width="4.04" height="2.69"/><rect x="486.16" y="258.81" width="4.04" height="3.5"/><rect x="490.2" y="257.47" width="12.12" height="5.93"/><rect x="502.32" y="259.62" width="16.16" height="5.39"/><rect x="518.48" y="257.47" width="13.47" height="5.93"/>
<rect x="531.95" y="259.62" width="14.81" height="5.39"/><rect x="546.77" y="258.01" width="13.47" height="5.93"/><rect x="560.24" y="259.62" width="14.81" height="5.39"/><rect x="575.05" y="260.7" width="28.28" height="6.2"/><rect x="603.87" y="254.77" width="28.55" height="3.23"/><rect x="661.78" y="253.97" width="7.54" height="2.69"/>
<rect x="667.98" y="255.31" width="8.08" height="2.15"/><rect x="674.71" y="253.97" width="13.47" height="2.69"/><rect x="690.34" y="260.97" width="27.47" height="5.93"/><rect x="717.81" y="262.32" width="30.98" height="3.23"/><rect x="747.44" y="260.97" width="29.63" height="6.73"/><rect x="884.7" y="259.62" width="3.5" height="3.77"/>
<rect x="888.2" y="258.01" width="4.04" height="4.31"/><rect x="892.24" y="256.93" width="18.86" height="6.46"/><rect x="920.53" y="256.93" width="18.86" height="6.46"/><rect x="948.81" y="256.93" width="20.2" height="6.46"/><rect x="1006.72" y="256.93" width="20.2" height="6.46"/><rect x="1035" y="256.93" width="20.2" height="6.46"/>
<rect x="1064.63" y="256.93" width="18.86" height="6.46"/><rect x="1092.92" y="256.93" width="20.2" height="6.46"/><rect x="1122.55" y="256.93" width="18.86" height="6.46"/><rect x="1150.83" y="256.93" width="18.86" height="6.46"/><rect x="910.29" y="259.08" width="11.04" height="6.46"/><rect x="938.57" y="259.08" width="11.04" height="6.46"/>
<rect x="968.2" y="259.08" width="11.04" height="6.46"/><rect x="1026.11" y="259.08" width="9.7" height="6.46"/><rect x="1054.4" y="259.08" width="11.04" height="6.46"/><rect x="1082.68" y="259.08" width="11.04" height="6.46"/><rect x="1112.31" y="259.08" width="11.04" height="6.46"/><rect x="1140.59" y="259.08" width="11.04" height="6.46"/>
<rect x="1168.88" y="259.08" width="9.7" height="6.46"/><rect x="978.44" y="259.62" width="28.28" height="6.73"/><rect x="192.63" y="349.13" width="0.9" height="4.55"/><rect x="194.22" y="349.13" width="2.89" height="4.55"/><rect x="198.18" y="350.31" width="2.86" height="3.37"/><rect x="201.55" y="350.81" width="2.76" height="4.55"/>
<rect x="205.01" y="350.81" width="1.09" height="4.55"/><rect x="343.3" y="350.81" width="2.53" height="4.04"/><rect x="348.35" y="349.8" width="2.53" height="4.38"/><rect x="352.36" y="350.31" width="2.89" height="2.53"/><rect x="355.95" y="350.31" width="0.81" height="2.53"/><rect x="357.61" y="350.31" width="1.24" height="5.56"/>
<rect x="359.55" y="350.31" width="2.89" height="5.56"/><rect x="363.14" y="350.31" width="2.89" height="5.56"/><rect x="572.93" y="350.81" width="2.69" height="4.04"/><rect x="576.97" y="349.47" width="3.23" height="4.85"/><rect x="582.38" y="350.01" width="2.89" height="2.69"/><rect x="585.97" y="350.01" width="0.43" height="2.69"/>
<rect x="587.21" y="350.01" width="1.66" height="5.93"/><rect x="589.56" y="350.01" width="2.89" height="5.93"/><rect x="593.16" y="350.01" width="2.89" height="5.93"/><rect x="596.75" y="350.01" width="0.42" height="5.93"/><rect x="629.49" y="348.12" width="2.5" height="4.58"/><rect x="632.69" y="348.12" width="2.89" height="4.58"/>
<rect x="636.29" y="348.12" width="2.89" height="4.58"/><rect x="639.88" y="348.12" width="1.74" height="4.58"/><rect x="641.62" y="346.77" width="1.16" height="5.93"/><rect x="643.47" y="346.77" width="2.89" height="5.93"/><rect x="647.07" y="346.77" width="2.89" height="5.93"/><rect x="650.66" y="346.77" width="2.89" height="5.93"/>
<rect x="654.26" y="346.77" width="2.17" height="5.93"/><rect x="657.85" y="348.93" width="2.89" height="5.39"/><rect x="661.44" y="348.93" width="2.89" height="5.39"/><rect x="665.04" y="348.93" width="2.89" height="5.39"/><rect x="668.63" y="348.93" width="2.89" height="5.39"/><rect x="672.23" y="348.93" width="2.89" height="5.39"/>
<rect x="675.82" y="348.93" width="2.89" height="5.39"/><rect x="679.41" y="348.93" width="1.26" height="5.39"/><rect x="683.37" y="348.12" width="2.53" height="4.04"/><rect x="686.6" y="348.12" width="2.15" height="4.04"/><rect x="688.75" y="350.01" width="0.74" height="5.39"/><rect x="690.2" y="350.01" width="2.89" height="5.39"/>
<rect x="693.79" y="350.01" width="2.89" height="5.39"/><rect x="697.38" y="350.01" width="1.34" height="5.39"/><rect x="709.49" y="348.12" width="1.57" height="5.39"/><rect x="711.76" y="348.12" width="2.58" height="5.39"/><rect x="714.34" y="346.77" width="0.31" height="4.04"/><rect x="715.35" y="346.77" width="2.89" height="4.04"/>
<rect x="718.95" y="346.77" width="0.78" height="4.04"/><rect x="719.73" y="347.31" width="2.11" height="2.69"/><rect x="722.54" y="347.31" width="2.89" height="2.69"/><rect x="726.14" y="347.31" width="2.21" height="2.69"/><rect x="758.79" y="348.93" width="2.59" height="4.58"/><rect x="762.08" y="348.93" width="2.89" height="4.58"/>
<rect x="765.67" y="348.93" width="1.2" height="4.58"/><rect x="766.87" y="348.93" width="1.7" height="2.69"/><rect x="769.26" y="348.93" width="2.89" height="2.69"/><rect x="772.86" y="348.93" width="0.74" height="2.69"/><rect x="975.21" y="350.01" width="1.81" height="3.77"/><rect x="977.72" y="350.01" width="2.89" height="3.77"/>
<rect x="982.48" y="349.47" width="1.73" height="3.23"/><rect x="984.9" y="349.47" width="2.89" height="3.23"/><rect x="988.5" y="349.47" width="2.06" height="3.23"/><rect x="992.09" y="350.01" width="2.89" height="4.85"/><rect x="995.69" y="350.01" width="1.61" height="4.85"/><rect x="998.1" y="348.12" width="0.48" height="4.04"/>
<rect x="999.28" y="348.12" width="2.89" height="4.04"/><rect x="1003.22" y="346.77" width="3.5" height="3.23"/><rect x="345.15" y="399.11" width="2.02" height="6.73"/><rect x="348.32" y="399.11" width="2.02" height="6.73"/><rect x="354.24" y="398.77" width="2.69" height="7.07" opacity="0.6"/><rect x="356.94" y="398.1" width="15.82" height="6.73"/>
<rect x="575.15" y="398.77" width="2.02" height="7.07"/><rect x="578.18" y="398.77" width="2.02" height="7.07"/><rect x="584.24" y="399.11" width="1.68" height="6.4" opacity="0.55"/><rect x="587.27" y="398.1" width="5.05" height="6.73" opacity="0.95"/><rect x="592.66" y="398.1" width="2.69" height="6.4" opacity="0.6"/><rect x="596.03" y="398.1" width="8.08" height="6.73" opacity="0.6"/>
<rect x="976.84" y="397.76" width="2.69" height="7.07"/><rect x="980.54" y="397.76" width="2.36" height="7.07"/><rect x="985.93" y="398.1" width="3.7" height="6.73" opacity="0.65"/><rect x="989.97" y="397.09" width="3.7" height="7.07" opacity="0.95"/><rect x="993.67" y="396.75" width="12.46" height="7.41" opacity="0.8"/><rect x="50.62" y="483.32" width="3.79" height="3.13"/>
<rect x="54.4" y="484.33" width="3.79" height="3.13"/><rect x="74.61" y="484.07" width="3.28" height="3.13" opacity="0.9"/><rect x="77.89" y="481.55" width="2.78" height="3.63" opacity="0.9"/><rect x="80.41" y="483.44" width="7.32" height="3.76"/><rect x="107.94" y="483.32" width="3.79" height="3.13"/><rect x="111.73" y="484.33" width="3.79" height="3.13"/>
<rect x="131.42" y="484.07" width="3.28" height="3.13" opacity="0.9"/><rect x="134.71" y="481.55" width="2.78" height="3.63" opacity="0.9"/><rect x="137.23" y="483.44" width="7.32" height="3.76"/><rect x="165.01" y="483.32" width="3.79" height="3.13"/><rect x="168.8" y="484.33" width="3.79" height="3.13"/><rect x="189.51" y="484.07" width="3.28" height="3.13" opacity="0.9"/>
<rect x="192.79" y="481.55" width="2.78" height="3.63" opacity="0.9"/><rect x="195.31" y="483.44" width="7.32" height="3.76"/><rect x="222.33" y="483.32" width="3.79" height="3.13"/><rect x="226.12" y="484.33" width="3.79" height="3.13"/><rect x="246.32" y="484.07" width="3.28" height="3.13" opacity="0.9"/><rect x="249.61" y="481.55" width="2.78" height="3.63" opacity="0.9"/>
<rect x="252.13" y="483.44" width="7.32" height="3.76"/><rect x="277.89" y="486.35" width="3.03" height="3.63" opacity="0.85"/><rect x="280.92" y="484.33" width="2.53" height="3.63" opacity="0.85"/><rect x="283.44" y="486.85" width="4.55" height="4.14"/><rect x="306.93" y="486.35" width="3.03" height="3.63" opacity="0.85"/><rect x="309.96" y="484.33" width="2.53" height="3.63" opacity="0.85"/>
<rect x="312.48" y="486.85" width="4.55" height="4.14"/><rect x="307.07" y="486.35" width="3.03" height="3.63" opacity="0.85"/><rect x="310.1" y="484.33" width="2.53" height="3.63" opacity="0.85"/><rect x="312.63" y="486.85" width="4.55" height="4.14"/><rect x="335.86" y="486.35" width="3.03" height="3.63" opacity="0.85"/><rect x="338.89" y="484.33" width="2.53" height="3.63" opacity="0.85"/>
<rect x="341.41" y="486.85" width="4.55" height="4.14"/><rect x="395.45" y="483.32" width="3.79" height="3.13"/><rect x="399.24" y="484.33" width="3.79" height="3.13"/><rect x="418.18" y="484.07" width="3.28" height="3.13" opacity="0.9"/><rect x="421.46" y="481.55" width="2.78" height="3.63" opacity="0.9"/><rect x="423.99" y="483.44" width="7.32" height="3.76"/>
<rect x="453.03" y="483.32" width="3.79" height="3.13"/><rect x="456.82" y="484.33" width="3.79" height="3.13"/><rect x="476.26" y="484.07" width="3.28" height="3.13" opacity="0.9"/><rect x="479.55" y="481.55" width="2.78" height="3.63" opacity="0.9"/><rect x="482.07" y="483.44" width="7.32" height="3.76"/><rect x="508.33" y="486.35" width="3.03" height="3.63" opacity="0.85"/>
<rect x="511.36" y="484.33" width="2.53" height="3.63" opacity="0.85"/><rect x="513.89" y="486.85" width="4.55" height="4.14"/><rect x="537.37" y="486.35" width="3.03" height="3.63" opacity="0.85"/><rect x="540.4" y="484.33" width="2.53" height="3.63" opacity="0.85"/><rect x="542.93" y="486.85" width="4.55" height="4.14"/><rect x="568.18" y="484.83" width="3.28" height="3.63"/>
<rect x="571.46" y="486.85" width="3.79" height="4.14"/><rect x="797.86" y="483.72" width="3.95" height="3.35"/><rect x="801.81" y="484.75" width="3.95" height="3.35"/><rect x="821.21" y="484.06" width="3.39" height="3.18" opacity="0.9"/><rect x="824.6" y="481.66" width="2.61" height="3.52" opacity="0.9"/><rect x="826.95" y="483.38" width="7.31" height="3.86"/>
<rect x="854.86" y="483.72" width="4.12" height="3.35"/><rect x="858.98" y="484.75" width="4.12" height="3.35"/><rect x="877.87" y="484.06" width="3.39" height="3.18" opacity="0.9"/><rect x="881.26" y="481.66" width="2.61" height="3.52" opacity="0.9"/><rect x="883.61" y="483.38" width="7.31" height="3.86"/><rect x="912.21" y="485.44" width="2.58" height="4.03" opacity="0.85"/>
<rect x="914.79" y="483.72" width="2.15" height="4.03" opacity="0.85"/><rect x="916.93" y="486.12" width="3.86" height="4.72"/><rect x="938.65" y="485.44" width="3.09" height="4.03" opacity="0.85"/><rect x="941.74" y="483.72" width="2.58" height="4.03" opacity="0.85"/><rect x="944.32" y="486.12" width="4.64" height="4.72"/><rect x="968.19" y="485.44" width="3.09" height="4.03" opacity="0.85"/>
<rect x="971.28" y="483.72" width="2.58" height="4.03" opacity="0.85"/><rect x="973.85" y="486.12" width="4.64" height="4.72"/><rect x="1027.25" y="485.44" width="2.58" height="4.03" opacity="0.85"/><rect x="1029.83" y="483.72" width="2.15" height="4.03" opacity="0.85"/><rect x="1031.97" y="486.12" width="3.86" height="4.72"/><rect x="1054.04" y="485.44" width="3.09" height="4.03" opacity="0.85"/>
<rect x="1057.13" y="483.72" width="2.58" height="4.03" opacity="0.85"/><rect x="1059.7" y="486.12" width="4.64" height="4.72"/><rect x="1082.88" y="485.44" width="3.09" height="4.03" opacity="0.85"/><rect x="1085.98" y="483.72" width="2.58" height="4.03" opacity="0.85"/><rect x="1088.55" y="486.12" width="4.64" height="4.72"/><rect x="1113.79" y="485.44" width="2.47" height="4.03" opacity="0.85"/>
<rect x="1116.26" y="483.72" width="2.06" height="4.03" opacity="0.85"/><rect x="1118.32" y="486.12" width="3.71" height="4.72"/><rect x="1141.61" y="485.44" width="2.58" height="4.03" opacity="0.85"/><rect x="1144.18" y="483.72" width="2.15" height="4.03" opacity="0.85"/><rect x="1146.33" y="486.12" width="3.86" height="4.72"/><rect x="1168.74" y="485.44" width="2.88" height="4.03" opacity="0.85"/>
<rect x="1171.62" y="483.72" width="2.4" height="4.03" opacity="0.85"/><rect x="1174.02" y="486.12" width="4.33" height="4.72"/><rect x="29.49" y="523.94" width="25.76" height="6.56"/><rect x="55.25" y="524.95" width="15.99" height="6.05"/><rect x="71.24" y="525.62" width="7.58" height="6.05"/><rect x="81.34" y="523.94" width="2.02" height="6.05"/>
<rect x="86.39" y="523.94" width="10.1" height="6.05"/><rect x="97.33" y="523.94" width="15.15" height="6.56"/><rect x="112.48" y="524.95" width="15.99" height="6.05"/><rect x="128.48" y="525.62" width="6.73" height="6.05"/><rect x="138.58" y="523.94" width="2.02" height="6.05"/><rect x="143.63" y="523.94" width="10.1" height="6.05"/>
<rect x="154.57" y="523.94" width="15.99" height="6.56"/><rect x="170.57" y="524.95" width="15.15" height="6.05"/><rect x="185.72" y="525.62" width="6.73" height="6.05"/><rect x="195.82" y="523.94" width="2.02" height="6.05"/><rect x="200.87" y="523.94" width="13.13" height="6.05"/><rect x="201.68" y="523.6" width="26.94" height="6.89"/>
<rect x="228.62" y="524.95" width="13.47" height="6.05"/><rect x="242.09" y="525.62" width="8.42" height="6.05"/><rect x="253.87" y="523.94" width="2.53" height="6.05"/><rect x="258.92" y="524.95" width="9.26" height="5.55"/><rect x="270.71" y="525.62" width="8.42" height="6.05"/><rect x="279.12" y="524.44" width="8.42" height="4.37"/>
<rect x="289.23" y="525.62" width="9.26" height="4.03"/><rect x="300.17" y="524.95" width="10.94" height="6.05"/><rect x="317.85" y="524.95" width="8.42" height="4.7"/><rect x="329.63" y="524.95" width="4.21" height="6.05"/><rect x="335.52" y="524.95" width="4.21" height="6.05"/><rect x="345.12" y="525.28" width="12.29" height="5.71"/>
<rect x="357.41" y="526.63" width="15.15" height="5.55"/><rect x="374.24" y="523.6" width="25.76" height="6.39"/><rect x="400" y="523.94" width="13.47" height="6.56"/><rect x="413.47" y="525.28" width="9.26" height="6.39"/><rect x="426.6" y="523.94" width="2.02" height="6.05"/><rect x="431.99" y="523.6" width="26.09" height="6.89"/>
<rect x="458.08" y="524.95" width="14.31" height="6.05"/><rect x="472.39" y="525.62" width="8.42" height="6.05"/><rect x="484.18" y="523.94" width="2.53" height="6.05"/><rect x="489.23" y="524.95" width="10.1" height="5.55"/><rect x="501.01" y="525.62" width="15.15" height="6.05"/><rect x="517.85" y="524.95" width="11.78" height="4.7"/>
<rect x="530.47" y="524.95" width="13.47" height="6.05"/><rect x="547.31" y="524.95" width="7.58" height="4.7"/><rect x="559.93" y="524.95" width="4.21" height="6.05"/><rect x="566.67" y="524.95" width="5.05" height="6.05"/><rect x="575.93" y="525.28" width="12.63" height="5.71"/><rect x="588.55" y="526.13" width="11.45" height="5.55"/>
<rect x="600" y="525.62" width="1.68" height="6.56"/><rect x="603.03" y="524.44" width="28.11" height="6.89"/><rect x="631.99" y="523.26" width="28.62" height="7.73"/><rect x="661.95" y="523.94" width="2.86" height="7.06"/><rect x="666.5" y="523.94" width="6.73" height="7.4"/><rect x="674.92" y="523.6" width="4.21" height="7.4"/>
<rect x="681.14" y="524.44" width="6.4" height="6.89"/><rect x="690.07" y="524.44" width="26.94" height="6.89"/><rect x="718.18" y="523.26" width="27.44" height="7.73"/><rect x="747.31" y="524.44" width="15.15" height="6.89"/><rect x="762.46" y="524.95" width="5.89" height="6.05" opacity="0.7"/><rect x="771.72" y="523.6" width="3.37" height="7.73"/>
<rect x="775.93" y="522.76" width="24.07" height="7.73"/><rect x="800" y="523.6" width="16.84" height="6.89"/><rect x="816.84" y="524.95" width="8.42" height="6.72"/><rect x="829.46" y="523.94" width="2.19" height="5.71"/><rect x="834.51" y="523.26" width="10.94" height="6.39"/><rect x="845.45" y="524.44" width="25.25" height="6.56"/>
<rect x="870.71" y="525.28" width="11.78" height="6.39"/><rect x="886.7" y="523.94" width="2.19" height="5.38"/><rect x="891.75" y="524.95" width="10.94" height="5.55"/><rect x="904.38" y="524.95" width="13.47" height="6.05"/><rect x="921.21" y="524.95" width="10.1" height="6.05"/><rect x="933" y="524.95" width="6.73" height="6.05"/>
<rect x="941.41" y="524.95" width="5.05" height="6.05"/><rect x="948.15" y="524.95" width="9.26" height="5.55"/><rect x="961.62" y="524.95" width="4.21" height="4.7"/><rect x="968.35" y="524.95" width="5.05" height="4.7"/><rect x="976.77" y="525.62" width="2.02" height="6.05"/><rect x="980.98" y="525.62" width="7.58" height="6.05"/>
<rect x="989.39" y="525.62" width="10.61" height="6.56"/><rect x="988" y="525.28" width="16.84" height="7.4"/><rect x="1006.18" y="523.94" width="12.12" height="7.06"/><rect x="1019.14" y="523.94" width="14.31" height="7.06"/><rect x="1035.14" y="525.28" width="10.94" height="5.21"/><rect x="1047.26" y="524.44" width="6.4" height="6.56"/>
<rect x="1054.5" y="524.44" width="7.58" height="6.56"/><rect x="1063.42" y="523.94" width="9.6" height="7.06"/><rect x="1076.38" y="524.44" width="5.56" height="6.56"/><rect x="1083.12" y="524.44" width="6.73" height="6.56"/><rect x="1092.04" y="523.94" width="12.12" height="7.06"/><rect x="1105.51" y="524.44" width="13.8" height="6.56"/>
<rect x="1121" y="524.44" width="11.78" height="6.56"/><rect x="1133.62" y="524.44" width="6.73" height="6.56"/><rect x="1141.2" y="524.44" width="6.73" height="6.56"/><rect x="1149.28" y="523.94" width="10.1" height="7.06"/><rect x="1162.24" y="524.44" width="5.56" height="6.56"/><rect x="1169.48" y="524.44" width="7.07" height="5.55"/>
<rect x="86.11" y="305" width="28.8" height="6.2"/><rect x="143.64" y="305" width="28.8" height="6.2"/><rect x="201.17" y="305" width="28.8" height="6.2"/><rect x="373.75" y="305" width="28.8" height="6.2"/><rect x="431.28" y="305" width="28.8" height="6.2"/><rect x="591.5" y="298.6" width="12" height="3.4"/>
<rect x="776.1" y="304.3" width="13" height="5.9"/><rect x="787.6" y="304.8" width="18" height="6.1"/><rect x="833.3" y="304.3" width="13" height="5.9"/><rect x="844.8" y="304.8" width="18" height="6.1"/><rect x="57.1" y="436.2" width="1.6" height="4" fill="#ff8cb4"/><rect x="57.1" y="446.2" width="1.6" height="5" fill="#ff8cb4"/>
<rect x="145" y="436.2" width="1.6" height="4" fill="#ff8cb4"/><rect x="145" y="446.2" width="1.6" height="5" fill="#ff8cb4"/><rect x="188.5" y="436.2" width="1.6" height="4" fill="#ff8cb4"/><rect x="233.2" y="436.2" width="1.6" height="4" fill="#ff8cb4"/><rect x="233.2" y="446.2" width="1.6" height="5" fill="#ff8cb4"/><rect x="242.3" y="436.2" width="1.6" height="4" fill="#ff8cb4"/>
<rect x="242.3" y="446.2" width="1.6" height="5" fill="#ff8cb4"/><rect x="277" y="436.2" width="1.6" height="4" fill="#ff8cb4"/><rect x="285.4" y="436.2" width="1.6" height="4" fill="#ff8cb4"/><rect x="329.2" y="436.2" width="1.6" height="4" fill="#ff8cb4"/><rect x="329.2" y="446.2" width="1.6" height="5" fill="#ff8cb4"/><rect x="417.9" y="436.2" width="1.6" height="4" fill="#ff8cb4"/>
<rect x="417.9" y="446.2" width="1.6" height="5" fill="#ff8cb4"/><rect x="426.6" y="436.2" width="1.6" height="4" fill="#ff8cb4"/><rect x="426.6" y="446.2" width="1.6" height="5" fill="#ff8cb4"/><rect x="461.7" y="436.2" width="1.6" height="4" fill="#ff8cb4"/><rect x="505.8" y="436.2" width="1.6" height="4" fill="#ff8cb4"/><rect x="505.8" y="446.2" width="1.6" height="5" fill="#ff8cb4"/>
<rect x="514.5" y="436.2" width="1.6" height="4" fill="#ff8cb4"/><rect x="514.5" y="445.5" width="1.6" height="3.5" fill="#ff8cb4"/><rect x="558.7" y="436.2" width="1.6" height="4" fill="#ff8cb4"/><rect x="602.7" y="436.2" width="1.6" height="4" fill="#ff8cb4"/><rect x="602.7" y="443.8" width="1.6" height="8.2" fill="#ff8cb4"/><rect x="646.8" y="436.2" width="1.6" height="4" fill="#ff8cb4"/>
<rect x="655.6" y="436.2" width="1.6" height="4" fill="#ff8cb4"/><rect x="691" y="436.2" width="1.6" height="4" fill="#ff8cb4"/><rect x="699.4" y="436.2" width="1.6" height="4" fill="#ff8cb4"/><rect x="699.4" y="446.2" width="1.6" height="5" fill="#ff8cb4"/><rect x="734.7" y="436.2" width="1.6" height="4" fill="#ff8cb4"/><rect x="743.5" y="436.2" width="1.6" height="4" fill="#ff8cb4"/>
<rect x="787.6" y="436.2" width="1.6" height="4" fill="#ff8cb4"/><rect x="787.6" y="446.2" width="1.6" height="5" fill="#ff8cb4"/><rect x="875.9" y="436.2" width="1.6" height="4" fill="#ff8cb4"/><rect x="875.9" y="446.2" width="1.6" height="5" fill="#ff8cb4"/><rect x="884.7" y="436.2" width="1.6" height="4" fill="#ff8cb4"/><rect x="884.7" y="446.2" width="1.6" height="5" fill="#ff8cb4"/>
<rect x="919.7" y="436.2" width="1.6" height="4" fill="#ff8cb4"/><rect x="928.5" y="436.2" width="1.6" height="4" fill="#ff8cb4"/><rect x="963.8" y="436.2" width="1.6" height="4" fill="#ff8cb4"/><rect x="963.8" y="446.2" width="1.6" height="5" fill="#ff8cb4"/><rect x="972.6" y="436.2" width="1.6" height="4" fill="#ff8cb4"/><rect x="972.6" y="446.2" width="1.6" height="5" fill="#ff8cb4"/>
<rect x="1016.7" y="436.2" width="1.6" height="4" fill="#ff8cb4"/><rect x="1060.8" y="436.2" width="1.6" height="4" fill="#ff8cb4"/><rect x="1060.8" y="443.8" width="1.6" height="8.2" fill="#ff8cb4"/><rect x="1104.9" y="436.2" width="1.6" height="4" fill="#ff8cb4"/><rect x="1113.7" y="436.2" width="1.6" height="4" fill="#ff8cb4"/><rect x="1149" y="446.2" width="1.6" height="5" fill="#ff8cb4"/>
<rect x="1157.7" y="445.5" width="1.6" height="3.5" fill="#ff8cb4"/><rect x="259.12" y="346.7" width="2.6" height="3.9"/><rect x="262.72" y="346.7" width="2.8" height="3.9"/><rect x="266.42" y="346.7" width="2.8" height="3.9"/><rect x="269.92" y="348.4" width="1.8" height="3.7"/><rect x="272.12" y="347.3" width="7.2" height="3.8"/>
<rect x="279.52" y="348.4" width="1.5" height="3.7"/><rect x="288.59" y="346.7" width="2.6" height="3.9"/><rect x="292.19" y="346.7" width="2.8" height="3.9"/><rect x="295.89" y="346.7" width="2.8" height="3.9"/><rect x="299.39" y="348.4" width="1.8" height="3.7"/><rect x="301.59" y="347.3" width="7.2" height="3.8"/>
<rect x="308.99" y="348.4" width="1.5" height="3.7"/><rect x="316.36" y="346.7" width="2.6" height="3.9"/><rect x="319.96" y="346.7" width="2.8" height="3.9"/><rect x="323.66" y="346.7" width="2.8" height="3.9"/><rect x="327.16" y="348.4" width="1.8" height="3.7"/><rect x="329.36" y="347.3" width="7.2" height="3.8"/>
<rect x="336.76" y="348.4" width="1.5" height="3.7"/><rect x="489.43" y="346.6" width="2.6" height="3.9"/><rect x="493.03" y="346.6" width="2.8" height="3.9"/><rect x="496.73" y="346.6" width="2.8" height="3.9"/><rect x="500.23" y="348.3" width="1.8" height="3.7"/><rect x="502.43" y="347.2" width="7.2" height="3.8"/>
<rect x="509.83" y="348.3" width="1.5" height="3.7"/><rect x="517.71" y="346.6" width="2.6" height="3.9"/><rect x="521.31" y="346.6" width="2.8" height="3.9"/><rect x="525.01" y="346.6" width="2.8" height="3.9"/><rect x="528.51" y="348.3" width="1.8" height="3.7"/><rect x="530.71" y="347.2" width="7.2" height="3.8"/>
<rect x="538.11" y="348.3" width="1.5" height="3.7"/><rect x="545.99" y="346.6" width="2.6" height="3.9"/><rect x="549.59" y="346.6" width="2.8" height="3.9"/><rect x="553.29" y="346.6" width="2.8" height="3.9"/><rect x="556.79" y="348.3" width="1.8" height="3.7"/><rect x="558.99" y="347.2" width="7.2" height="3.8"/>
<rect x="566.39" y="348.3" width="1.5" height="3.7"/><rect x="890.9" y="346" width="2.6" height="3.9"/><rect x="894.5" y="346" width="2.8" height="3.9"/><rect x="898.2" y="346" width="2.8" height="3.9"/><rect x="901.7" y="347.7" width="1.8" height="3.7"/><rect x="903.9" y="346.6" width="7.2" height="3.8"/>
<rect x="911.3" y="347.7" width="1.5" height="3.7"/><rect x="920.53" y="346" width="2.6" height="3.9"/><rect x="924.13" y="346" width="2.8" height="3.9"/><rect x="927.83" y="346" width="2.8" height="3.9"/><rect x="931.33" y="347.7" width="1.8" height="3.7"/><rect x="933.53" y="346.6" width="7.2" height="3.8"/>
<rect x="940.93" y="347.7" width="1.5" height="3.7"/><rect x="948.81" y="346" width="2.6" height="3.9"/><rect x="952.41" y="346" width="2.8" height="3.9"/><rect x="956.11" y="346" width="2.8" height="3.9"/><rect x="959.61" y="347.7" width="1.8" height="3.7"/><rect x="961.81" y="346.6" width="7.2" height="3.8"/>
<rect x="969.21" y="347.7" width="1.5" height="3.7"/><rect x="1007.53" y="346" width="2.6" height="3.9"/><rect x="1011.13" y="346" width="2.8" height="3.9"/><rect x="1014.83" y="346" width="2.8" height="3.9"/><rect x="1018.33" y="347.7" width="1.8" height="3.7"/><rect x="1020.53" y="346.6" width="7.2" height="3.8"/>
<rect x="1027.93" y="347.7" width="1.5" height="3.7"/><rect x="1035.54" y="346" width="2.6" height="3.9"/><rect x="1039.14" y="346" width="2.8" height="3.9"/><rect x="1042.84" y="346" width="2.8" height="3.9"/><rect x="1046.34" y="347.7" width="1.8" height="3.7"/><rect x="1048.54" y="346.6" width="7.2" height="3.8"/>
<rect x="1055.94" y="347.7" width="1.5" height="3.7"/><rect x="1064.09" y="346" width="2.6" height="3.9"/><rect x="1067.69" y="346" width="2.8" height="3.9"/><rect x="1071.39" y="346" width="2.8" height="3.9"/><rect x="1074.89" y="347.7" width="1.8" height="3.7"/><rect x="1077.09" y="346.6" width="7.2" height="3.8"/>
<rect x="1084.49" y="347.7" width="1.5" height="3.7"/><rect x="1092.92" y="346" width="2.6" height="3.9"/><rect x="1096.52" y="346" width="2.8" height="3.9"/><rect x="1100.22" y="346" width="2.8" height="3.9"/><rect x="1103.72" y="347.7" width="1.8" height="3.7"/><rect x="1105.92" y="346.6" width="7.2" height="3.8"/>
<rect x="1113.32" y="347.7" width="1.5" height="3.7"/><rect x="1121.2" y="346" width="2.6" height="3.9"/><rect x="1124.8" y="346" width="2.8" height="3.9"/><rect x="1128.5" y="346" width="2.8" height="3.9"/><rect x="1132" y="347.7" width="1.8" height="3.7"/><rect x="1134.2" y="346.6" width="7.2" height="3.8"/>
<rect x="1141.6" y="347.7" width="1.5" height="3.7"/><rect x="1150.29" y="346" width="2.6" height="3.9"/><rect x="1153.89" y="346" width="2.8" height="3.9"/><rect x="1157.59" y="346" width="2.8" height="3.9"/><rect x="1161.09" y="347.7" width="1.8" height="3.7"/><rect x="1163.29" y="346.6" width="7.2" height="3.8"/>
<rect x="1170.69" y="347.7" width="1.5" height="3.7"/><rect x="259.55" y="169.1" width="2.1" height="3"/><rect x="262.35" y="169.1" width="2.1" height="3"/><rect x="265.35" y="169.1" width="2.2" height="3"/><rect x="267.85" y="170" width="1.9" height="2.9"/><rect x="269.95" y="170.4" width="2.4" height="3"/>
<rect x="272.75" y="170.4" width="5" height="3"/><rect x="278.25" y="171.2" width="1.6" height="2.9"/><rect x="288.3" y="169.1" width="2.1" height="3"/><rect x="291.1" y="169.1" width="2.1" height="3"/><rect x="294.1" y="169.1" width="2.2" height="3"/><rect x="296.6" y="170" width="1.9" height="2.9"/>
<rect x="298.7" y="170.4" width="2.4" height="3"/><rect x="301.5" y="170.4" width="5" height="3"/><rect x="307" y="171.2" width="1.6" height="2.9"/><rect x="317.05" y="169.1" width="2.1" height="3"/><rect x="319.85" y="169.1" width="2.1" height="3"/><rect x="322.85" y="169.1" width="2.2" height="3"/>
<rect x="325.35" y="170" width="1.9" height="2.9"/><rect x="327.45" y="170.4" width="2.4" height="3"/><rect x="330.25" y="170.4" width="5" height="3"/><rect x="335.75" y="171.2" width="1.6" height="2.9"/><rect x="489.55" y="169.1" width="2.1" height="3"/><rect x="492.35" y="169.1" width="2.1" height="3"/>
<rect x="495.35" y="169.1" width="2.2" height="3"/><rect x="497.85" y="170" width="1.9" height="2.9"/><rect x="499.95" y="170.4" width="2.4" height="3"/><rect x="502.75" y="170.4" width="5" height="3"/><rect x="508.25" y="171.2" width="1.6" height="2.9"/><rect x="518.3" y="169.1" width="2.1" height="3"/>
<rect x="521.1" y="169.1" width="2.1" height="3"/><rect x="524.1" y="169.1" width="2.2" height="3"/><rect x="526.6" y="170" width="1.9" height="2.9"/><rect x="528.7" y="170.4" width="2.4" height="3"/><rect x="531.5" y="170.4" width="5" height="3"/><rect x="537" y="171.2" width="1.6" height="2.9"/>
<rect x="547.05" y="169.1" width="2.1" height="3"/><rect x="549.85" y="169.1" width="2.1" height="3"/><rect x="552.85" y="169.1" width="2.2" height="3"/><rect x="555.35" y="170" width="1.9" height="2.9"/><rect x="557.45" y="170.4" width="2.4" height="3"/><rect x="560.25" y="170.4" width="5" height="3"/>
<rect x="565.75" y="171.2" width="1.6" height="2.9"/><rect x="892.05" y="169.1" width="2.1" height="3"/><rect x="894.85" y="169.1" width="2.1" height="3"/><rect x="897.85" y="169.1" width="2.2" height="3"/><rect x="900.35" y="170" width="1.9" height="2.9"/><rect x="902.45" y="170.4" width="2.4" height="3"/>
<rect x="905.25" y="170.4" width="5" height="3"/><rect x="910.75" y="171.2" width="1.6" height="2.9"/><rect x="920.8" y="169.1" width="2.1" height="3"/><rect x="923.6" y="169.1" width="2.1" height="3"/><rect x="926.6" y="169.1" width="2.2" height="3"/><rect x="929.1" y="170" width="1.9" height="2.9"/>
<rect x="931.2" y="170.4" width="2.4" height="3"/><rect x="934" y="170.4" width="5" height="3"/><rect x="939.5" y="171.2" width="1.6" height="2.9"/><rect x="949.55" y="169.1" width="2.1" height="3"/><rect x="952.35" y="169.1" width="2.1" height="3"/><rect x="955.35" y="169.1" width="2.2" height="3"/>
<rect x="957.85" y="170" width="1.9" height="2.9"/><rect x="959.95" y="170.4" width="2.4" height="3"/><rect x="962.75" y="170.4" width="5" height="3"/><rect x="968.25" y="171.2" width="1.6" height="2.9"/><rect x="1007.05" y="169.1" width="2.1" height="3"/><rect x="1009.85" y="169.1" width="2.1" height="3"/>
<rect x="1012.85" y="169.1" width="2.2" height="3"/><rect x="1015.35" y="170" width="1.9" height="2.9"/><rect x="1017.45" y="170.4" width="2.4" height="3"/><rect x="1020.25" y="170.4" width="5" height="3"/><rect x="1025.75" y="171.2" width="1.6" height="2.9"/><rect x="1035.8" y="169.1" width="2.1" height="3"/>
<rect x="1038.6" y="169.1" width="2.1" height="3"/><rect x="1041.6" y="169.1" width="2.2" height="3"/><rect x="1044.1" y="170" width="1.9" height="2.9"/><rect x="1046.2" y="170.4" width="2.4" height="3"/><rect x="1049" y="170.4" width="5" height="3"/><rect x="1054.5" y="171.2" width="1.6" height="2.9"/>
<rect x="1064.55" y="169.1" width="2.1" height="3"/><rect x="1067.35" y="169.1" width="2.1" height="3"/><rect x="1070.35" y="169.1" width="2.2" height="3"/><rect x="1072.85" y="170" width="1.9" height="2.9"/><rect x="1074.95" y="170.4" width="2.4" height="3"/><rect x="1077.75" y="170.4" width="5" height="3"/>
<rect x="1083.25" y="171.2" width="1.6" height="2.9"/><rect x="1093.3" y="169.1" width="2.1" height="3"/><rect x="1096.1" y="169.1" width="2.1" height="3"/><rect x="1099.1" y="169.1" width="2.2" height="3"/><rect x="1101.6" y="170" width="1.9" height="2.9"/><rect x="1103.7" y="170.4" width="2.4" height="3"/>
<rect x="1106.5" y="170.4" width="5" height="3"/><rect x="1112" y="171.2" width="1.6" height="2.9"/><rect x="1122.05" y="169.1" width="2.1" height="3"/><rect x="1124.85" y="169.1" width="2.1" height="3"/><rect x="1127.85" y="169.1" width="2.2" height="3"/><rect x="1130.35" y="170" width="1.9" height="2.9"/>
<rect x="1132.45" y="170.4" width="2.4" height="3"/><rect x="1135.25" y="170.4" width="5" height="3"/><rect x="1140.75" y="171.2" width="1.6" height="2.9"/><rect x="1150.8" y="169.1" width="2.1" height="3"/><rect x="1153.6" y="169.1" width="2.1" height="3"/><rect x="1156.6" y="169.1" width="2.2" height="3"/>
<rect x="1159.1" y="170" width="1.9" height="2.9"/><rect x="1161.2" y="170.4" width="2.4" height="3"/><rect x="1164" y="170.4" width="5" height="3"/><rect x="1169.5" y="171.2" width="1.6" height="2.9"/>
</g>
<text class="lb" x="38.3" y="24.65" textLength="93.6" lengthAdjust="spacingAndGlyphs">ElPiano1</text>
<text class="lb" x="38.3" y="69.23" textLength="101.43" lengthAdjust="spacingAndGlyphs">FngrBass</text>
<text class="lb" x="38.3" y="113.81" textLength="95.72" lengthAdjust="spacingAndGlyphs">CleanGtr</text>
<text class="lb" x="38.3" y="158.39" textLength="75.8" lengthAdjust="spacingAndGlyphs">JazzGtr</text>
<text class="lb" x="38.3" y="202.97" textLength="104.96" lengthAdjust="spacingAndGlyphs">Ensmble1</text>
<text class="lb" x="38.3" y="247.55" textLength="99.65" lengthAdjust="spacingAndGlyphs">SynStrg1</text>
<text class="lb" x="38.3" y="292.13" textLength="100.04" lengthAdjust="spacingAndGlyphs">SweepPd</text>
<text class="lb" x="38.3" y="336.71" textLength="84.86" lengthAdjust="spacingAndGlyphs">VoiceLd</text>
<text class="lb" x="38.3" y="381.29" textLength="94.53" lengthAdjust="spacingAndGlyphs">Ovrdrive</text>
<text class="lb" x="38.3" y="425.87" textLength="114" lengthAdjust="spacingAndGlyphs">GM Drums</text>
<text class="lb" x="38.3" y="470.45" textLength="89.54" lengthAdjust="spacingAndGlyphs">Distortd</text>
<text class="lb" x="38.3" y="515.03" textLength="106.26" lengthAdjust="spacingAndGlyphs">RockOrgn</text>
<g stroke="#fff" stroke-width="1">
<line x1="14.5" y1="552" x2="14.5" y2="556.5"/><line x1="158.5" y1="552" x2="158.5" y2="556.5"/><line x1="302.5" y1="552" x2="302.5" y2="556.5"/><line x1="445.5" y1="552" x2="445.5" y2="556.5"/><line x1="589.5" y1="552" x2="589.5" y2="556.5"/><line x1="733.5" y1="552" x2="733.5" y2="556.5"/><line x1="876.5" y1="552" x2="876.5" y2="556.5"/><line x1="1020.5" y1="552" x2="1020.5" y2="556.5"/><line x1="1164.5" y1="552" x2="1164.5" y2="556.5"/>
</g>
<text class="tk" x="15.1" y="571.6" textLength="8.2" lengthAdjust="spacingAndGlyphs">0</text>
<text class="tk" x="158.5" y="571.6" textLength="16.3" lengthAdjust="spacingAndGlyphs">20</text>
<text class="tk" x="302.5" y="571.6" textLength="16.3" lengthAdjust="spacingAndGlyphs">40</text>
<text class="tk" x="445.5" y="571.6" textLength="16.3" lengthAdjust="spacingAndGlyphs">60</text>
<text class="tk" x="589.5" y="571.6" textLength="16.3" lengthAdjust="spacingAndGlyphs">80</text>
<text class="tk" x="733.5" y="571.6" textLength="24.6" lengthAdjust="spacingAndGlyphs">100</text>
<text class="tk" x="876.5" y="571.6" textLength="24.6" lengthAdjust="spacingAndGlyphs">120</text>
<text class="tk" x="1020.5" y="571.6" textLength="24.6" lengthAdjust="spacingAndGlyphs">140</text>
<text class="tk" x="1164.5" y="571.6" textLength="24.6" lengthAdjust="spacingAndGlyphs">160</text>
<g fill="#3a3a3a">
<ellipse cx="523.2" cy="574.5" rx="20" ry="10.2"/><ellipse cx="570.7" cy="574.5" rx="20" ry="10.2"/><ellipse cx="619" cy="574.5" rx="20" ry="10.2"/><ellipse cx="667" cy="574.5" rx="20" ry="10.2"/>
</g>
<g fill="#fff" fill-rule="evenodd">
<path d="M513.9 567.9 H515.2 L532.6 574.2 V575.8 L515.2 582 H513.9 Z M518.3 572.2 L526 575 L518.3 577.8 Z"/>
<path d="M562.6 568.1 L584.4 573.6 V576.2 L562.6 581.6 V578.3 L578.2 574.9 L562.6 571.4 Z"/>
<rect x="608.9" y="569.9" width="21" height="11"/>
<path d="M676.2 567.9 H674.9 L657.5 574.2 V575.8 L674.9 582 H676.2 Z M671.8 572.2 L664.1 575 L671.8 577.8 Z"/>
</g>
<text x="596.0" y="591.8" style="font-size:14px;text-anchor:middle" textLength="122.8" lengthAdjust="spacingAndGlyphs">Temps (secondes)</text>
</svg>
</body>
</html>
